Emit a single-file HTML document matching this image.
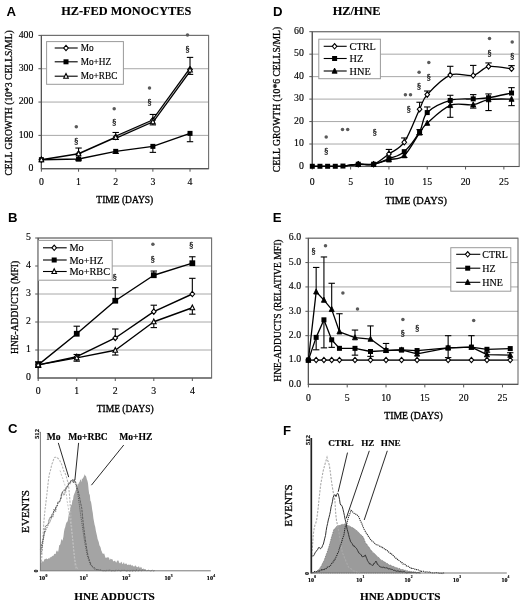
<!DOCTYPE html>
<html><head><meta charset="utf-8"><title>Figure</title>
<style>html,body{margin:0;padding:0;background:#fff;}svg{display:block;will-change:transform;}</style></head>
<body><svg width="520" height="603" viewBox="0 0 520 603">
<rect x="0" y="0" width="520" height="603" fill="#fff"/>
<text x="6.40" y="15.50" font-family='"Liberation Sans", sans-serif' font-size="13.2" font-weight="bold" text-anchor="start" fill="#000" >A</text>
<text x="126.25" y="15.00" font-family='"Liberation Serif", serif' font-size="12.3" font-weight="bold" text-anchor="middle" fill="#000" stroke="#000" stroke-width="0.15" >HZ-FED MONOCYTES</text>
<line x1="41.40" y1="135.38" x2="208.60" y2="135.38" stroke="#a8a8a8" stroke-width="1.0" />
<line x1="41.40" y1="102.05" x2="208.60" y2="102.05" stroke="#a8a8a8" stroke-width="1.0" />
<line x1="41.40" y1="68.72" x2="208.60" y2="68.72" stroke="#a8a8a8" stroke-width="1.0" />
<line x1="41.40" y1="35.40" x2="208.60" y2="35.40" stroke="#a8a8a8" stroke-width="1.0" />
<rect x="41.40" y="35.40" width="167.20" height="133.30" fill="none" stroke="#6e6e6e" stroke-width="1.1"/>
<line x1="41.40" y1="35.40" x2="41.40" y2="169.20" stroke="#555" stroke-width="1.2" />
<line x1="40.90" y1="168.70" x2="208.60" y2="168.70" stroke="#555" stroke-width="1.2" />
<line x1="38.40" y1="135.38" x2="41.40" y2="135.38" stroke="#555" stroke-width="1.0" />
<line x1="38.40" y1="102.05" x2="41.40" y2="102.05" stroke="#555" stroke-width="1.0" />
<line x1="38.40" y1="68.72" x2="41.40" y2="68.72" stroke="#555" stroke-width="1.0" />
<line x1="38.40" y1="35.40" x2="41.40" y2="35.40" stroke="#555" stroke-width="1.0" />
<line x1="41.40" y1="168.70" x2="41.40" y2="171.70" stroke="#555" stroke-width="1.0" />
<line x1="78.56" y1="168.70" x2="78.56" y2="171.70" stroke="#555" stroke-width="1.0" />
<line x1="115.71" y1="168.70" x2="115.71" y2="171.70" stroke="#555" stroke-width="1.0" />
<line x1="152.87" y1="168.70" x2="152.87" y2="171.70" stroke="#555" stroke-width="1.0" />
<line x1="190.02" y1="168.70" x2="190.02" y2="171.70" stroke="#555" stroke-width="1.0" />
<text x="33.40" y="170.90" font-family='"Liberation Serif", serif' font-size="9.8" font-weight="normal" text-anchor="end" fill="#000" stroke="#000" stroke-width="0.15" >0</text>
<text x="33.40" y="137.57" font-family='"Liberation Serif", serif' font-size="9.8" font-weight="normal" text-anchor="end" fill="#000" stroke="#000" stroke-width="0.15" >100</text>
<text x="33.40" y="104.25" font-family='"Liberation Serif", serif' font-size="9.8" font-weight="normal" text-anchor="end" fill="#000" stroke="#000" stroke-width="0.15" >200</text>
<text x="33.40" y="70.92" font-family='"Liberation Serif", serif' font-size="9.8" font-weight="normal" text-anchor="end" fill="#000" stroke="#000" stroke-width="0.15" >300</text>
<text x="33.40" y="37.60" font-family='"Liberation Serif", serif' font-size="9.8" font-weight="normal" text-anchor="end" fill="#000" stroke="#000" stroke-width="0.15" >400</text>
<text x="0" y="0" font-family='"Liberation Serif", serif' font-size="9.8" font-weight="normal" text-anchor="middle" fill="#000" stroke="#000" stroke-width="0.15"  transform="translate(41.40,184.50) scale(1,0.95)">0</text>
<text x="0" y="0" font-family='"Liberation Serif", serif' font-size="9.8" font-weight="normal" text-anchor="middle" fill="#000" stroke="#000" stroke-width="0.15"  transform="translate(78.56,184.50) scale(1,0.95)">1</text>
<text x="0" y="0" font-family='"Liberation Serif", serif' font-size="9.8" font-weight="normal" text-anchor="middle" fill="#000" stroke="#000" stroke-width="0.15"  transform="translate(115.71,184.50) scale(1,0.95)">2</text>
<text x="0" y="0" font-family='"Liberation Serif", serif' font-size="9.8" font-weight="normal" text-anchor="middle" fill="#000" stroke="#000" stroke-width="0.15"  transform="translate(152.87,184.50) scale(1,0.95)">3</text>
<text x="0" y="0" font-family='"Liberation Serif", serif' font-size="9.8" font-weight="normal" text-anchor="middle" fill="#000" stroke="#000" stroke-width="0.15"  transform="translate(190.02,184.50) scale(1,0.95)">4</text>
<text x="0" y="0" font-family='"Liberation Serif", serif' font-size="9.65" font-weight="normal" text-anchor="middle" fill="#000" stroke="#000" stroke-width="0.28"  transform="translate(11.50,102.90) rotate(-90) scale(1,1.0)">CELL GROWTH (10*3 CELLS/ML)</text>
<text x="124.80" y="202.50" font-family='"Liberation Serif", serif' font-size="9.5" font-weight="normal" text-anchor="middle" fill="#000" stroke="#000" stroke-width="0.32" >TIME (DAYS)</text>
<line x1="78.56" y1="153.70" x2="78.56" y2="148.04" stroke="#000" stroke-width="1.1" />
<line x1="75.36" y1="148.04" x2="81.76" y2="148.04" stroke="#000" stroke-width="1.1" />
<line x1="115.71" y1="137.04" x2="115.71" y2="132.48" stroke="#000" stroke-width="1.1" />
<line x1="112.51" y1="132.48" x2="118.91" y2="132.48" stroke="#000" stroke-width="1.1" />
<line x1="152.87" y1="120.05" x2="152.87" y2="114.45" stroke="#000" stroke-width="1.1" />
<line x1="149.67" y1="114.45" x2="156.07" y2="114.45" stroke="#000" stroke-width="1.1" />
<line x1="190.02" y1="69.39" x2="190.02" y2="57.39" stroke="#000" stroke-width="1.1" />
<line x1="186.82" y1="57.39" x2="193.22" y2="57.39" stroke="#000" stroke-width="1.1" />
<line x1="78.56" y1="153.70" x2="78.56" y2="159.70" stroke="#000" stroke-width="1.1" />
<line x1="75.36" y1="159.70" x2="81.76" y2="159.70" stroke="#000" stroke-width="1.1" />
<line x1="115.71" y1="137.37" x2="115.71" y2="139.37" stroke="#000" stroke-width="1.1" />
<line x1="112.51" y1="139.37" x2="118.91" y2="139.37" stroke="#000" stroke-width="1.1" />
<line x1="152.87" y1="121.71" x2="152.87" y2="124.88" stroke="#000" stroke-width="1.1" />
<line x1="149.67" y1="124.88" x2="156.07" y2="124.88" stroke="#000" stroke-width="1.1" />
<line x1="190.02" y1="70.06" x2="190.02" y2="74.39" stroke="#000" stroke-width="1.1" />
<line x1="186.82" y1="74.39" x2="193.22" y2="74.39" stroke="#000" stroke-width="1.1" />
<line x1="78.56" y1="159.04" x2="78.56" y2="160.70" stroke="#000" stroke-width="1.1" />
<line x1="75.36" y1="160.70" x2="81.76" y2="160.70" stroke="#000" stroke-width="1.1" />
<line x1="115.71" y1="151.37" x2="115.71" y2="153.37" stroke="#000" stroke-width="1.1" />
<line x1="112.51" y1="153.37" x2="118.91" y2="153.37" stroke="#000" stroke-width="1.1" />
<line x1="152.87" y1="146.37" x2="152.87" y2="152.37" stroke="#000" stroke-width="1.1" />
<line x1="149.67" y1="152.37" x2="156.07" y2="152.37" stroke="#000" stroke-width="1.1" />
<line x1="190.02" y1="133.38" x2="190.02" y2="141.71" stroke="#000" stroke-width="1.1" />
<line x1="186.82" y1="141.71" x2="193.22" y2="141.71" stroke="#000" stroke-width="1.1" />
<polyline points="41.40,159.70 78.56,159.04 115.71,151.37 152.87,146.37 190.02,133.38" fill="none" stroke="#000" stroke-width="1.4" stroke-linejoin="round"/>
<polyline points="41.40,159.70 78.56,153.70 115.71,137.21" fill="none" stroke="#000" stroke-width="1.5" stroke-linejoin="round"/>
<polyline points="115.71,137.21 152.87,120.88 190.02,69.72" fill="none" stroke="#000" stroke-width="3.1" stroke-linejoin="round"/>
<polyline points="115.71,137.21 152.87,120.88 190.02,69.72" fill="none" stroke="#fff" stroke-width="0.65" stroke-linejoin="round"/>
<rect x="38.90" y="157.20" width="5.00" height="5.00" fill="#000"/>
<rect x="76.06" y="156.54" width="5.00" height="5.00" fill="#000"/>
<rect x="113.21" y="148.87" width="5.00" height="5.00" fill="#000"/>
<rect x="150.37" y="143.87" width="5.00" height="5.00" fill="#000"/>
<rect x="187.52" y="130.88" width="5.00" height="5.00" fill="#000"/>
<path d="M41.40,157.00 L43.70,159.70 L41.40,162.40 L39.10,159.70 Z" fill="#fff" stroke="#000" stroke-width="1.1"/>
<path d="M78.56,151.00 L80.86,153.70 L78.56,156.40 L76.26,153.70 Z" fill="#fff" stroke="#000" stroke-width="1.1"/>
<path d="M115.71,134.34 L118.01,137.04 L115.71,139.74 L113.41,137.04 Z" fill="#fff" stroke="#000" stroke-width="1.1"/>
<path d="M152.87,117.35 L155.17,120.05 L152.87,122.75 L150.57,120.05 Z" fill="#fff" stroke="#000" stroke-width="1.1"/>
<path d="M190.02,66.69 L192.32,69.39 L190.02,72.09 L187.72,69.39 Z" fill="#fff" stroke="#000" stroke-width="1.1"/>
<path d="M41.40,157.00 L43.70,161.70 L39.10,161.70 Z" fill="#fff" stroke="#000" stroke-width="1.1" stroke-linejoin="miter"/>
<path d="M78.56,151.00 L80.86,155.70 L76.26,155.70 Z" fill="#fff" stroke="#000" stroke-width="1.1" stroke-linejoin="miter"/>
<path d="M115.71,134.67 L118.01,139.37 L113.41,139.37 Z" fill="#fff" stroke="#000" stroke-width="1.1" stroke-linejoin="miter"/>
<path d="M152.87,119.01 L155.17,123.71 L150.57,123.71 Z" fill="#fff" stroke="#000" stroke-width="1.1" stroke-linejoin="miter"/>
<path d="M190.02,67.36 L192.32,72.06 L187.72,72.06 Z" fill="#fff" stroke="#000" stroke-width="1.1" stroke-linejoin="miter"/>
<circle cx="76.30" cy="126.80" r="1.75" fill="#5a5a5a"/>
<text x="76.30" y="144.18" font-family='"Liberation Serif", serif' font-size="9.2" font-weight="normal" text-anchor="middle" fill="#1a1a1a" stroke="#1a1a1a" stroke-width="0.3" >§</text>
<circle cx="114.20" cy="108.80" r="1.75" fill="#5a5a5a"/>
<text x="114.20" y="125.48" font-family='"Liberation Serif", serif' font-size="9.2" font-weight="normal" text-anchor="middle" fill="#1a1a1a" stroke="#1a1a1a" stroke-width="0.3" >§</text>
<circle cx="149.50" cy="88.00" r="1.75" fill="#5a5a5a"/>
<text x="149.50" y="104.98" font-family='"Liberation Serif", serif' font-size="9.2" font-weight="normal" text-anchor="middle" fill="#1a1a1a" stroke="#1a1a1a" stroke-width="0.3" >§</text>
<circle cx="187.50" cy="35.00" r="1.75" fill="#5a5a5a"/>
<text x="187.50" y="52.08" font-family='"Liberation Serif", serif' font-size="9.2" font-weight="normal" text-anchor="middle" fill="#1a1a1a" stroke="#1a1a1a" stroke-width="0.3" >§</text>
<rect x="46.60" y="41.60" width="76.80" height="42.70" fill="#fff" stroke="#9a9a9a" stroke-width="1"/>
<line x1="54.70" y1="48.00" x2="77.70" y2="48.00" stroke="#000" stroke-width="1.1" />
<path d="M66.00,45.30 L68.30,48.00 L66.00,50.70 L63.70,48.00 Z" fill="#fff" stroke="#000" stroke-width="1.1"/>
<text x="80.70" y="51.16" font-family='"Liberation Serif", serif' font-size="9.3" font-weight="normal" text-anchor="start" fill="#000" stroke="#000" stroke-width="0.15" >Mo</text>
<line x1="54.70" y1="61.80" x2="77.70" y2="61.80" stroke="#000" stroke-width="1.1" />
<rect x="63.50" y="59.30" width="5.00" height="5.00" fill="#000"/>
<text x="80.70" y="64.96" font-family='"Liberation Serif", serif' font-size="9.3" font-weight="normal" text-anchor="start" fill="#000" stroke="#000" stroke-width="0.15" >Mo+HZ</text>
<line x1="54.70" y1="76.20" x2="77.70" y2="76.20" stroke="#000" stroke-width="1.1" />
<path d="M66.00,73.50 L68.30,78.20 L63.70,78.20 Z" fill="#fff" stroke="#000" stroke-width="1.1" stroke-linejoin="miter"/>
<text x="80.70" y="79.36" font-family='"Liberation Serif", serif' font-size="9.3" font-weight="normal" text-anchor="start" fill="#000" stroke="#000" stroke-width="0.15" >Mo+RBC</text>
<text x="8.00" y="222.40" font-family='"Liberation Sans", sans-serif' font-size="13.2" font-weight="bold" text-anchor="start" fill="#000" >B</text>
<line x1="38.20" y1="350.00" x2="211.60" y2="350.00" stroke="#a8a8a8" stroke-width="1.0" />
<line x1="38.20" y1="322.00" x2="211.60" y2="322.00" stroke="#a8a8a8" stroke-width="1.0" />
<line x1="38.20" y1="294.00" x2="211.60" y2="294.00" stroke="#a8a8a8" stroke-width="1.0" />
<line x1="38.20" y1="266.00" x2="211.60" y2="266.00" stroke="#a8a8a8" stroke-width="1.0" />
<line x1="38.20" y1="238.00" x2="211.60" y2="238.00" stroke="#a8a8a8" stroke-width="1.0" />
<rect x="38.20" y="238.00" width="173.40" height="140.00" fill="none" stroke="#6e6e6e" stroke-width="1.1"/>
<line x1="38.20" y1="238.00" x2="38.20" y2="378.50" stroke="#555" stroke-width="1.2" />
<line x1="37.70" y1="378.00" x2="211.60" y2="378.00" stroke="#555" stroke-width="1.2" />
<line x1="35.20" y1="350.00" x2="38.20" y2="350.00" stroke="#555" stroke-width="1.0" />
<line x1="35.20" y1="322.00" x2="38.20" y2="322.00" stroke="#555" stroke-width="1.0" />
<line x1="35.20" y1="294.00" x2="38.20" y2="294.00" stroke="#555" stroke-width="1.0" />
<line x1="35.20" y1="266.00" x2="38.20" y2="266.00" stroke="#555" stroke-width="1.0" />
<line x1="35.20" y1="238.00" x2="38.20" y2="238.00" stroke="#555" stroke-width="1.0" />
<line x1="38.20" y1="378.00" x2="38.20" y2="381.00" stroke="#555" stroke-width="1.0" />
<line x1="76.73" y1="378.00" x2="76.73" y2="381.00" stroke="#555" stroke-width="1.0" />
<line x1="115.27" y1="378.00" x2="115.27" y2="381.00" stroke="#555" stroke-width="1.0" />
<line x1="153.80" y1="378.00" x2="153.80" y2="381.00" stroke="#555" stroke-width="1.0" />
<line x1="192.33" y1="378.00" x2="192.33" y2="381.00" stroke="#555" stroke-width="1.0" />
<text x="31.00" y="380.20" font-family='"Liberation Serif", serif' font-size="9.8" font-weight="normal" text-anchor="end" fill="#000" stroke="#000" stroke-width="0.15" >0</text>
<text x="31.00" y="352.20" font-family='"Liberation Serif", serif' font-size="9.8" font-weight="normal" text-anchor="end" fill="#000" stroke="#000" stroke-width="0.15" >1</text>
<text x="31.00" y="324.20" font-family='"Liberation Serif", serif' font-size="9.8" font-weight="normal" text-anchor="end" fill="#000" stroke="#000" stroke-width="0.15" >2</text>
<text x="31.00" y="296.20" font-family='"Liberation Serif", serif' font-size="9.8" font-weight="normal" text-anchor="end" fill="#000" stroke="#000" stroke-width="0.15" >3</text>
<text x="31.00" y="268.20" font-family='"Liberation Serif", serif' font-size="9.8" font-weight="normal" text-anchor="end" fill="#000" stroke="#000" stroke-width="0.15" >4</text>
<text x="31.00" y="240.20" font-family='"Liberation Serif", serif' font-size="9.8" font-weight="normal" text-anchor="end" fill="#000" stroke="#000" stroke-width="0.15" >5</text>
<text x="0" y="0" font-family='"Liberation Serif", serif' font-size="9.8" font-weight="normal" text-anchor="middle" fill="#000" stroke="#000" stroke-width="0.15"  transform="translate(38.20,394.00) scale(1,0.95)">0</text>
<text x="0" y="0" font-family='"Liberation Serif", serif' font-size="9.8" font-weight="normal" text-anchor="middle" fill="#000" stroke="#000" stroke-width="0.15"  transform="translate(76.73,394.00) scale(1,0.95)">1</text>
<text x="0" y="0" font-family='"Liberation Serif", serif' font-size="9.8" font-weight="normal" text-anchor="middle" fill="#000" stroke="#000" stroke-width="0.15"  transform="translate(115.27,394.00) scale(1,0.95)">2</text>
<text x="0" y="0" font-family='"Liberation Serif", serif' font-size="9.8" font-weight="normal" text-anchor="middle" fill="#000" stroke="#000" stroke-width="0.15"  transform="translate(153.80,394.00) scale(1,0.95)">3</text>
<text x="0" y="0" font-family='"Liberation Serif", serif' font-size="9.8" font-weight="normal" text-anchor="middle" fill="#000" stroke="#000" stroke-width="0.15"  transform="translate(192.33,394.00) scale(1,0.95)">4</text>
<text x="0" y="0" font-family='"Liberation Serif", serif' font-size="9.5" font-weight="normal" text-anchor="middle" fill="#000" stroke="#000" stroke-width="0.28"  transform="translate(17.50,307.40) rotate(-90) scale(1,1.0)">HNE-ADDUCTS (MFI)</text>
<text x="125.20" y="411.70" font-family='"Liberation Serif", serif' font-size="9.5" font-weight="normal" text-anchor="middle" fill="#000" stroke="#000" stroke-width="0.32" >TIME (DAYS)</text>
<line x1="38.20" y1="364.84" x2="38.20" y2="361.76" stroke="#000" stroke-width="1.1" />
<line x1="35.00" y1="361.76" x2="41.40" y2="361.76" stroke="#000" stroke-width="1.1" />
<line x1="76.73" y1="333.76" x2="76.73" y2="326.20" stroke="#000" stroke-width="1.1" />
<line x1="73.53" y1="326.20" x2="79.93" y2="326.20" stroke="#000" stroke-width="1.1" />
<line x1="115.27" y1="300.72" x2="115.27" y2="287.70" stroke="#000" stroke-width="1.1" />
<line x1="112.07" y1="287.70" x2="118.47" y2="287.70" stroke="#000" stroke-width="1.1" />
<line x1="153.80" y1="275.24" x2="153.80" y2="271.04" stroke="#000" stroke-width="1.1" />
<line x1="150.60" y1="271.04" x2="157.00" y2="271.04" stroke="#000" stroke-width="1.1" />
<line x1="192.33" y1="263.20" x2="192.33" y2="256.76" stroke="#000" stroke-width="1.1" />
<line x1="189.13" y1="256.76" x2="195.53" y2="256.76" stroke="#000" stroke-width="1.1" />
<line x1="76.73" y1="356.72" x2="76.73" y2="354.48" stroke="#000" stroke-width="1.1" />
<line x1="73.53" y1="354.48" x2="79.93" y2="354.48" stroke="#000" stroke-width="1.1" />
<line x1="115.27" y1="337.96" x2="115.27" y2="329.00" stroke="#000" stroke-width="1.1" />
<line x1="112.07" y1="329.00" x2="118.47" y2="329.00" stroke="#000" stroke-width="1.1" />
<line x1="153.80" y1="311.64" x2="153.80" y2="305.20" stroke="#000" stroke-width="1.1" />
<line x1="150.60" y1="305.20" x2="157.00" y2="305.20" stroke="#000" stroke-width="1.1" />
<line x1="192.33" y1="294.00" x2="192.33" y2="278.32" stroke="#000" stroke-width="1.1" />
<line x1="189.13" y1="278.32" x2="195.53" y2="278.32" stroke="#000" stroke-width="1.1" />
<line x1="38.20" y1="364.84" x2="38.20" y2="367.36" stroke="#000" stroke-width="1.1" />
<line x1="35.00" y1="367.36" x2="41.40" y2="367.36" stroke="#000" stroke-width="1.1" />
<line x1="76.73" y1="357.84" x2="76.73" y2="361.20" stroke="#000" stroke-width="1.1" />
<line x1="73.53" y1="361.20" x2="79.93" y2="361.20" stroke="#000" stroke-width="1.1" />
<line x1="115.27" y1="350.28" x2="115.27" y2="355.04" stroke="#000" stroke-width="1.1" />
<line x1="112.07" y1="355.04" x2="118.47" y2="355.04" stroke="#000" stroke-width="1.1" />
<line x1="153.80" y1="321.72" x2="153.80" y2="327.60" stroke="#000" stroke-width="1.1" />
<line x1="150.60" y1="327.60" x2="157.00" y2="327.60" stroke="#000" stroke-width="1.1" />
<line x1="192.33" y1="307.72" x2="192.33" y2="314.16" stroke="#000" stroke-width="1.1" />
<line x1="189.13" y1="314.16" x2="195.53" y2="314.16" stroke="#000" stroke-width="1.1" />
<polyline points="38.20,364.84 76.73,333.76 115.27,300.72 153.80,275.24 192.33,263.20" fill="none" stroke="#000" stroke-width="1.4" stroke-linejoin="round"/>
<polyline points="38.20,364.84 76.73,356.72 115.27,337.96 153.80,311.64 192.33,294.00" fill="none" stroke="#000" stroke-width="1.4" stroke-linejoin="round"/>
<polyline points="38.20,364.84 76.73,357.84 115.27,350.28 153.80,321.72 192.33,307.72" fill="none" stroke="#000" stroke-width="1.4" stroke-linejoin="round"/>
<rect x="35.33" y="361.96" width="5.75" height="5.75" fill="#000"/>
<rect x="73.86" y="330.88" width="5.75" height="5.75" fill="#000"/>
<rect x="112.39" y="297.85" width="5.75" height="5.75" fill="#000"/>
<rect x="150.92" y="272.37" width="5.75" height="5.75" fill="#000"/>
<rect x="189.46" y="260.32" width="5.75" height="5.75" fill="#000"/>
<path d="M38.20,362.14 L40.50,364.84 L38.20,367.54 L35.90,364.84 Z" fill="#fff" stroke="#000" stroke-width="1.1"/>
<path d="M76.73,354.02 L79.03,356.72 L76.73,359.42 L74.43,356.72 Z" fill="#fff" stroke="#000" stroke-width="1.1"/>
<path d="M115.27,335.26 L117.57,337.96 L115.27,340.66 L112.97,337.96 Z" fill="#fff" stroke="#000" stroke-width="1.1"/>
<path d="M153.80,308.94 L156.10,311.64 L153.80,314.34 L151.50,311.64 Z" fill="#fff" stroke="#000" stroke-width="1.1"/>
<path d="M192.33,291.30 L194.63,294.00 L192.33,296.70 L190.03,294.00 Z" fill="#fff" stroke="#000" stroke-width="1.1"/>
<path d="M38.20,362.14 L40.50,366.84 L35.90,366.84 Z" fill="#fff" stroke="#000" stroke-width="1.1" stroke-linejoin="miter"/>
<path d="M76.73,355.14 L79.03,359.84 L74.43,359.84 Z" fill="#fff" stroke="#000" stroke-width="1.1" stroke-linejoin="miter"/>
<path d="M115.27,347.58 L117.57,352.28 L112.97,352.28 Z" fill="#fff" stroke="#000" stroke-width="1.1" stroke-linejoin="miter"/>
<path d="M153.80,319.02 L156.10,323.72 L151.50,323.72 Z" fill="#fff" stroke="#000" stroke-width="1.1" stroke-linejoin="miter"/>
<path d="M192.33,305.02 L194.63,309.72 L190.03,309.72 Z" fill="#fff" stroke="#000" stroke-width="1.1" stroke-linejoin="miter"/>
<text x="114.80" y="280.48" font-family='"Liberation Serif", serif' font-size="9.2" font-weight="normal" text-anchor="middle" fill="#1a1a1a" stroke="#1a1a1a" stroke-width="0.3" >§</text>
<circle cx="152.90" cy="244.30" r="1.75" fill="#5a5a5a"/>
<text x="152.90" y="262.08" font-family='"Liberation Serif", serif' font-size="9.2" font-weight="normal" text-anchor="middle" fill="#1a1a1a" stroke="#1a1a1a" stroke-width="0.3" >§</text>
<text x="191.20" y="248.28" font-family='"Liberation Serif", serif' font-size="9.2" font-weight="normal" text-anchor="middle" fill="#1a1a1a" stroke="#1a1a1a" stroke-width="0.3" >§</text>
<rect x="38.30" y="240.40" width="73.90" height="39.80" fill="#fff" stroke="#9a9a9a" stroke-width="1"/>
<line x1="43.00" y1="247.80" x2="66.70" y2="247.80" stroke="#000" stroke-width="1.1" />
<path d="M54.20,245.10 L56.50,247.80 L54.20,250.50 L51.90,247.80 Z" fill="#fff" stroke="#000" stroke-width="1.1"/>
<text x="69.40" y="251.30" font-family='"Liberation Serif", serif' font-size="10.3" font-weight="normal" text-anchor="start" fill="#000" stroke="#000" stroke-width="0.15" >Mo</text>
<line x1="43.00" y1="260.00" x2="66.70" y2="260.00" stroke="#000" stroke-width="1.1" />
<rect x="51.70" y="257.50" width="5.00" height="5.00" fill="#000"/>
<text x="69.40" y="263.50" font-family='"Liberation Serif", serif' font-size="10.3" font-weight="normal" text-anchor="start" fill="#000" stroke="#000" stroke-width="0.15" >Mo+HZ</text>
<line x1="43.00" y1="271.50" x2="66.70" y2="271.50" stroke="#000" stroke-width="1.1" />
<path d="M54.20,268.80 L56.50,273.50 L51.90,273.50 Z" fill="#fff" stroke="#000" stroke-width="1.1" stroke-linejoin="miter"/>
<text x="69.40" y="275.00" font-family='"Liberation Serif", serif' font-size="10.3" font-weight="normal" text-anchor="start" fill="#000" stroke="#000" stroke-width="0.15" >Mo+RBC</text>
<text x="273.00" y="15.60" font-family='"Liberation Sans", sans-serif' font-size="13.2" font-weight="bold" text-anchor="start" fill="#000" >D</text>
<text x="356.60" y="15.30" font-family='"Liberation Serif", serif' font-size="12.3" font-weight="bold" text-anchor="middle" fill="#000" stroke="#000" stroke-width="0.15" >HZ/HNE</text>
<line x1="312.30" y1="144.03" x2="519.20" y2="144.03" stroke="#a8a8a8" stroke-width="1.0" />
<line x1="312.30" y1="121.57" x2="519.20" y2="121.57" stroke="#a8a8a8" stroke-width="1.0" />
<line x1="312.30" y1="99.10" x2="519.20" y2="99.10" stroke="#a8a8a8" stroke-width="1.0" />
<line x1="312.30" y1="76.63" x2="519.20" y2="76.63" stroke="#a8a8a8" stroke-width="1.0" />
<line x1="312.30" y1="54.17" x2="519.20" y2="54.17" stroke="#a8a8a8" stroke-width="1.0" />
<line x1="312.30" y1="31.70" x2="519.20" y2="31.70" stroke="#a8a8a8" stroke-width="1.0" />
<rect x="312.30" y="31.70" width="206.90" height="134.80" fill="none" stroke="#6e6e6e" stroke-width="1.1"/>
<line x1="312.30" y1="31.70" x2="312.30" y2="167.00" stroke="#555" stroke-width="1.2" />
<line x1="311.80" y1="166.50" x2="519.20" y2="166.50" stroke="#555" stroke-width="1.2" />
<line x1="309.30" y1="144.03" x2="312.30" y2="144.03" stroke="#555" stroke-width="1.0" />
<line x1="309.30" y1="121.57" x2="312.30" y2="121.57" stroke="#555" stroke-width="1.0" />
<line x1="309.30" y1="99.10" x2="312.30" y2="99.10" stroke="#555" stroke-width="1.0" />
<line x1="309.30" y1="76.63" x2="312.30" y2="76.63" stroke="#555" stroke-width="1.0" />
<line x1="309.30" y1="54.17" x2="312.30" y2="54.17" stroke="#555" stroke-width="1.0" />
<line x1="309.30" y1="31.70" x2="312.30" y2="31.70" stroke="#555" stroke-width="1.0" />
<line x1="312.30" y1="166.50" x2="312.30" y2="169.50" stroke="#555" stroke-width="1.0" />
<line x1="350.61" y1="166.50" x2="350.61" y2="169.50" stroke="#555" stroke-width="1.0" />
<line x1="388.93" y1="166.50" x2="388.93" y2="169.50" stroke="#555" stroke-width="1.0" />
<line x1="427.24" y1="166.50" x2="427.24" y2="169.50" stroke="#555" stroke-width="1.0" />
<line x1="465.56" y1="166.50" x2="465.56" y2="169.50" stroke="#555" stroke-width="1.0" />
<line x1="503.87" y1="166.50" x2="503.87" y2="169.50" stroke="#555" stroke-width="1.0" />
<text x="303.90" y="168.70" font-family='"Liberation Serif", serif' font-size="9.8" font-weight="normal" text-anchor="end" fill="#000" stroke="#000" stroke-width="0.15" >0</text>
<text x="303.90" y="146.23" font-family='"Liberation Serif", serif' font-size="9.8" font-weight="normal" text-anchor="end" fill="#000" stroke="#000" stroke-width="0.15" >10</text>
<text x="303.90" y="123.77" font-family='"Liberation Serif", serif' font-size="9.8" font-weight="normal" text-anchor="end" fill="#000" stroke="#000" stroke-width="0.15" >20</text>
<text x="303.90" y="101.30" font-family='"Liberation Serif", serif' font-size="9.8" font-weight="normal" text-anchor="end" fill="#000" stroke="#000" stroke-width="0.15" >30</text>
<text x="303.90" y="78.83" font-family='"Liberation Serif", serif' font-size="9.8" font-weight="normal" text-anchor="end" fill="#000" stroke="#000" stroke-width="0.15" >40</text>
<text x="303.90" y="56.37" font-family='"Liberation Serif", serif' font-size="9.8" font-weight="normal" text-anchor="end" fill="#000" stroke="#000" stroke-width="0.15" >50</text>
<text x="303.90" y="33.90" font-family='"Liberation Serif", serif' font-size="9.8" font-weight="normal" text-anchor="end" fill="#000" stroke="#000" stroke-width="0.15" >60</text>
<text x="0" y="0" font-family='"Liberation Serif", serif' font-size="9.8" font-weight="normal" text-anchor="middle" fill="#000" stroke="#000" stroke-width="0.15"  transform="translate(312.30,184.70) scale(1,0.95)">0</text>
<text x="0" y="0" font-family='"Liberation Serif", serif' font-size="9.8" font-weight="normal" text-anchor="middle" fill="#000" stroke="#000" stroke-width="0.15"  transform="translate(350.61,184.70) scale(1,0.95)">5</text>
<text x="0" y="0" font-family='"Liberation Serif", serif' font-size="9.8" font-weight="normal" text-anchor="middle" fill="#000" stroke="#000" stroke-width="0.15"  transform="translate(388.93,184.70) scale(1,0.95)">10</text>
<text x="0" y="0" font-family='"Liberation Serif", serif' font-size="9.8" font-weight="normal" text-anchor="middle" fill="#000" stroke="#000" stroke-width="0.15"  transform="translate(427.24,184.70) scale(1,0.95)">15</text>
<text x="0" y="0" font-family='"Liberation Serif", serif' font-size="9.8" font-weight="normal" text-anchor="middle" fill="#000" stroke="#000" stroke-width="0.15"  transform="translate(465.56,184.70) scale(1,0.95)">20</text>
<text x="0" y="0" font-family='"Liberation Serif", serif' font-size="9.8" font-weight="normal" text-anchor="middle" fill="#000" stroke="#000" stroke-width="0.15"  transform="translate(503.87,184.70) scale(1,0.95)">25</text>
<text x="0" y="0" font-family='"Liberation Serif", serif' font-size="9.65" font-weight="normal" text-anchor="middle" fill="#000" stroke="#000" stroke-width="0.28"  transform="translate(279.50,99.50) rotate(-90) scale(1,1.0)">CELL GROWTH (10*6 CELLS/ML)</text>
<text x="416.00" y="203.70" font-family='"Liberation Serif", serif' font-size="10.3" font-weight="normal" text-anchor="middle" fill="#000" stroke="#000" stroke-width="0.32" >TIME (DAYS)</text>
<line x1="388.93" y1="153.92" x2="388.93" y2="149.43" stroke="#000" stroke-width="1.1" />
<line x1="385.73" y1="149.43" x2="392.13" y2="149.43" stroke="#000" stroke-width="1.1" />
<line x1="404.26" y1="142.24" x2="404.26" y2="137.97" stroke="#000" stroke-width="1.1" />
<line x1="401.06" y1="137.97" x2="407.46" y2="137.97" stroke="#000" stroke-width="1.1" />
<line x1="419.58" y1="109.21" x2="419.58" y2="102.25" stroke="#000" stroke-width="1.1" />
<line x1="416.38" y1="102.25" x2="422.78" y2="102.25" stroke="#000" stroke-width="1.1" />
<line x1="427.24" y1="94.61" x2="427.24" y2="91.01" stroke="#000" stroke-width="1.1" />
<line x1="424.04" y1="91.01" x2="430.44" y2="91.01" stroke="#000" stroke-width="1.1" />
<line x1="450.23" y1="75.06" x2="450.23" y2="66.30" stroke="#000" stroke-width="1.1" />
<line x1="447.03" y1="66.30" x2="453.43" y2="66.30" stroke="#000" stroke-width="1.1" />
<line x1="473.22" y1="75.51" x2="473.22" y2="65.40" stroke="#000" stroke-width="1.1" />
<line x1="470.02" y1="65.40" x2="476.42" y2="65.40" stroke="#000" stroke-width="1.1" />
<line x1="488.55" y1="66.52" x2="488.55" y2="62.93" stroke="#000" stroke-width="1.1" />
<line x1="485.35" y1="62.93" x2="491.75" y2="62.93" stroke="#000" stroke-width="1.1" />
<line x1="511.54" y1="68.77" x2="511.54" y2="65.62" stroke="#000" stroke-width="1.1" />
<line x1="508.34" y1="65.62" x2="514.74" y2="65.62" stroke="#000" stroke-width="1.1" />
<line x1="419.58" y1="131.68" x2="419.58" y2="129.65" stroke="#000" stroke-width="1.1" />
<line x1="416.38" y1="129.65" x2="422.78" y2="129.65" stroke="#000" stroke-width="1.1" />
<line x1="427.24" y1="112.58" x2="427.24" y2="106.96" stroke="#000" stroke-width="1.1" />
<line x1="424.04" y1="106.96" x2="430.44" y2="106.96" stroke="#000" stroke-width="1.1" />
<line x1="450.23" y1="100.45" x2="450.23" y2="95.28" stroke="#000" stroke-width="1.1" />
<line x1="447.03" y1="95.28" x2="453.43" y2="95.28" stroke="#000" stroke-width="1.1" />
<line x1="473.22" y1="98.88" x2="473.22" y2="94.61" stroke="#000" stroke-width="1.1" />
<line x1="470.02" y1="94.61" x2="476.42" y2="94.61" stroke="#000" stroke-width="1.1" />
<line x1="488.55" y1="97.75" x2="488.55" y2="93.93" stroke="#000" stroke-width="1.1" />
<line x1="485.35" y1="93.93" x2="491.75" y2="93.93" stroke="#000" stroke-width="1.1" />
<line x1="511.54" y1="93.03" x2="511.54" y2="87.64" stroke="#000" stroke-width="1.1" />
<line x1="508.34" y1="87.64" x2="514.74" y2="87.64" stroke="#000" stroke-width="1.1" />
<line x1="404.26" y1="155.49" x2="404.26" y2="157.51" stroke="#000" stroke-width="1.1" />
<line x1="401.06" y1="157.51" x2="407.46" y2="157.51" stroke="#000" stroke-width="1.1" />
<line x1="419.58" y1="132.80" x2="419.58" y2="134.60" stroke="#000" stroke-width="1.1" />
<line x1="416.38" y1="134.60" x2="422.78" y2="134.60" stroke="#000" stroke-width="1.1" />
<line x1="450.23" y1="105.39" x2="450.23" y2="117.30" stroke="#000" stroke-width="1.1" />
<line x1="447.03" y1="117.30" x2="453.43" y2="117.30" stroke="#000" stroke-width="1.1" />
<line x1="473.22" y1="104.72" x2="473.22" y2="108.09" stroke="#000" stroke-width="1.1" />
<line x1="470.02" y1="108.09" x2="476.42" y2="108.09" stroke="#000" stroke-width="1.1" />
<line x1="488.55" y1="99.55" x2="488.55" y2="110.56" stroke="#000" stroke-width="1.1" />
<line x1="485.35" y1="110.56" x2="491.75" y2="110.56" stroke="#000" stroke-width="1.1" />
<line x1="511.54" y1="99.10" x2="511.54" y2="105.62" stroke="#000" stroke-width="1.1" />
<line x1="508.34" y1="105.62" x2="514.74" y2="105.62" stroke="#000" stroke-width="1.1" />
<path d="M312.30,166.28 C313.58,166.28 317.41,166.28 319.96,166.28 C322.52,166.28 325.07,166.28 327.63,166.28 C330.18,166.28 332.73,166.31 335.29,166.28 C337.84,166.24 339.12,166.39 342.95,166.05 C346.78,165.71 353.17,164.55 358.28,164.25 C363.39,163.95 368.50,165.00 373.60,164.25 C378.71,163.50 383.82,161.22 388.93,159.76 C394.04,158.30 399.15,159.98 404.26,155.49 C409.36,151.00 415.75,138.19 419.58,132.80 C423.41,127.41 422.14,127.71 427.24,123.14 C432.35,118.57 442.57,108.46 450.23,105.39 C457.90,102.32 466.84,105.69 473.22,104.72 C479.61,103.74 482.16,100.49 488.55,99.55 C494.93,98.61 507.71,99.17 511.54,99.10" fill="none" stroke="#000" stroke-width="1.3"/>
<path d="M312.30,166.28 C313.58,166.28 317.41,166.28 319.96,166.28 C322.52,166.28 325.07,166.28 327.63,166.28 C330.18,166.28 332.73,166.31 335.29,166.28 C337.84,166.24 339.12,166.39 342.95,166.05 C346.78,165.71 353.17,164.55 358.28,164.25 C363.39,163.95 368.50,165.19 373.60,164.25 C378.71,163.32 383.82,160.73 388.93,158.64 C394.04,156.54 399.15,156.17 404.26,151.67 C409.36,147.18 415.75,138.19 419.58,131.68 C423.41,125.16 422.14,117.78 427.24,112.58 C432.35,107.38 442.57,102.73 450.23,100.45 C457.90,98.16 466.84,99.32 473.22,98.88 C479.61,98.43 482.16,98.73 488.55,97.75 C494.93,96.78 507.71,93.82 511.54,93.03" fill="none" stroke="#000" stroke-width="1.3"/>
<path d="M312.30,166.28 C313.58,166.28 317.41,166.28 319.96,166.28 C322.52,166.28 325.07,166.28 327.63,166.28 C330.18,166.28 332.73,166.31 335.29,166.28 C337.84,166.24 339.12,166.39 342.95,166.05 C346.78,165.71 353.17,164.55 358.28,164.25 C363.39,163.95 368.50,165.98 373.60,164.25 C378.71,162.53 383.82,157.59 388.93,153.92 C394.04,150.25 399.15,149.69 404.26,142.24 C409.36,134.78 415.75,117.15 419.58,109.21 C423.41,101.27 422.14,100.30 427.24,94.61 C432.35,88.92 442.57,78.24 450.23,75.06 C457.90,71.88 466.84,76.93 473.22,75.51 C479.61,74.09 482.16,67.65 488.55,66.52 C494.93,65.40 507.71,68.40 511.54,68.77" fill="none" stroke="#000" stroke-width="1.3"/>
<path d="M358.28,161.55 L360.58,164.25 L358.28,166.95 L355.98,164.25 Z" fill="#fff" stroke="#000" stroke-width="1.1"/>
<path d="M373.60,161.55 L375.90,164.25 L373.60,166.95 L371.30,164.25 Z" fill="#fff" stroke="#000" stroke-width="1.1"/>
<path d="M388.93,151.22 L391.23,153.92 L388.93,156.62 L386.63,153.92 Z" fill="#fff" stroke="#000" stroke-width="1.1"/>
<path d="M404.26,139.54 L406.56,142.24 L404.26,144.94 L401.96,142.24 Z" fill="#fff" stroke="#000" stroke-width="1.1"/>
<path d="M419.58,106.51 L421.88,109.21 L419.58,111.91 L417.28,109.21 Z" fill="#fff" stroke="#000" stroke-width="1.1"/>
<path d="M427.24,91.91 L429.54,94.61 L427.24,97.31 L424.94,94.61 Z" fill="#fff" stroke="#000" stroke-width="1.1"/>
<path d="M450.23,72.36 L452.53,75.06 L450.23,77.76 L447.93,75.06 Z" fill="#fff" stroke="#000" stroke-width="1.1"/>
<path d="M473.22,72.81 L475.52,75.51 L473.22,78.21 L470.92,75.51 Z" fill="#fff" stroke="#000" stroke-width="1.1"/>
<path d="M488.55,63.82 L490.85,66.52 L488.55,69.22 L486.25,66.52 Z" fill="#fff" stroke="#000" stroke-width="1.1"/>
<path d="M511.54,66.07 L513.84,68.77 L511.54,71.47 L509.24,68.77 Z" fill="#fff" stroke="#000" stroke-width="1.1"/>
<path d="M358.28,161.35 L360.78,166.45 L355.78,166.45 Z" fill="#000" stroke="#000" stroke-width="0.9" stroke-linejoin="round"/>
<path d="M373.60,161.35 L376.10,166.45 L371.10,166.45 Z" fill="#000" stroke="#000" stroke-width="0.9" stroke-linejoin="round"/>
<path d="M388.93,156.86 L391.43,161.96 L386.43,161.96 Z" fill="#000" stroke="#000" stroke-width="0.9" stroke-linejoin="round"/>
<path d="M404.26,152.59 L406.76,157.69 L401.76,157.69 Z" fill="#000" stroke="#000" stroke-width="0.9" stroke-linejoin="round"/>
<path d="M419.58,129.90 L422.08,135.00 L417.08,135.00 Z" fill="#000" stroke="#000" stroke-width="0.9" stroke-linejoin="round"/>
<path d="M427.24,120.24 L429.74,125.34 L424.74,125.34 Z" fill="#000" stroke="#000" stroke-width="0.9" stroke-linejoin="round"/>
<path d="M450.23,102.49 L452.73,107.59 L447.73,107.59 Z" fill="#000" stroke="#000" stroke-width="0.9" stroke-linejoin="round"/>
<path d="M473.22,101.82 L475.72,106.92 L470.72,106.92 Z" fill="#000" stroke="#000" stroke-width="0.9" stroke-linejoin="round"/>
<path d="M488.55,96.65 L491.05,101.75 L486.05,101.75 Z" fill="#000" stroke="#000" stroke-width="0.9" stroke-linejoin="round"/>
<path d="M511.54,96.20 L514.04,101.30 L509.04,101.30 Z" fill="#000" stroke="#000" stroke-width="0.9" stroke-linejoin="round"/>
<rect x="309.80" y="163.78" width="5.00" height="5.00" fill="#000"/>
<rect x="317.46" y="163.78" width="5.00" height="5.00" fill="#000"/>
<rect x="325.13" y="163.78" width="5.00" height="5.00" fill="#000"/>
<rect x="332.79" y="163.78" width="5.00" height="5.00" fill="#000"/>
<rect x="340.45" y="163.55" width="5.00" height="5.00" fill="#000"/>
<rect x="355.78" y="161.75" width="5.00" height="5.00" fill="#000"/>
<rect x="371.10" y="161.75" width="5.00" height="5.00" fill="#000"/>
<rect x="386.43" y="156.14" width="5.00" height="5.00" fill="#000"/>
<rect x="401.76" y="149.17" width="5.00" height="5.00" fill="#000"/>
<rect x="417.08" y="129.18" width="5.00" height="5.00" fill="#000"/>
<rect x="424.74" y="110.08" width="5.00" height="5.00" fill="#000"/>
<rect x="447.73" y="97.95" width="5.00" height="5.00" fill="#000"/>
<rect x="470.72" y="96.38" width="5.00" height="5.00" fill="#000"/>
<rect x="486.05" y="95.25" width="5.00" height="5.00" fill="#000"/>
<rect x="509.04" y="90.53" width="5.00" height="5.00" fill="#000"/>
<circle cx="326.20" cy="137.00" r="1.75" fill="#5a5a5a"/>
<text x="326.20" y="154.28" font-family='"Liberation Serif", serif' font-size="9.2" font-weight="normal" text-anchor="middle" fill="#1a1a1a" stroke="#1a1a1a" stroke-width="0.3" >§</text>
<circle cx="342.50" cy="129.50" r="1.75" fill="#5a5a5a"/>
<circle cx="347.70" cy="129.50" r="1.75" fill="#5a5a5a"/>
<text x="374.80" y="135.28" font-family='"Liberation Serif", serif' font-size="9.2" font-weight="normal" text-anchor="middle" fill="#1a1a1a" stroke="#1a1a1a" stroke-width="0.3" >§</text>
<circle cx="405.40" cy="94.70" r="1.75" fill="#5a5a5a"/>
<circle cx="410.50" cy="94.70" r="1.75" fill="#5a5a5a"/>
<text x="408.80" y="111.68" font-family='"Liberation Serif", serif' font-size="9.2" font-weight="normal" text-anchor="middle" fill="#1a1a1a" stroke="#1a1a1a" stroke-width="0.3" >§</text>
<circle cx="419.10" cy="72.30" r="1.75" fill="#5a5a5a"/>
<text x="419.10" y="88.88" font-family='"Liberation Serif", serif' font-size="9.2" font-weight="normal" text-anchor="middle" fill="#1a1a1a" stroke="#1a1a1a" stroke-width="0.3" >§</text>
<circle cx="428.80" cy="62.60" r="1.75" fill="#5a5a5a"/>
<text x="428.80" y="80.18" font-family='"Liberation Serif", serif' font-size="9.2" font-weight="normal" text-anchor="middle" fill="#1a1a1a" stroke="#1a1a1a" stroke-width="0.3" >§</text>
<circle cx="489.50" cy="38.60" r="1.75" fill="#5a5a5a"/>
<text x="489.50" y="56.48" font-family='"Liberation Serif", serif' font-size="9.2" font-weight="normal" text-anchor="middle" fill="#1a1a1a" stroke="#1a1a1a" stroke-width="0.3" >§</text>
<circle cx="512.20" cy="42.00" r="1.75" fill="#5a5a5a"/>
<text x="512.20" y="59.08" font-family='"Liberation Serif", serif' font-size="9.2" font-weight="normal" text-anchor="middle" fill="#1a1a1a" stroke="#1a1a1a" stroke-width="0.3" >§</text>
<rect x="318.80" y="39.20" width="61.60" height="39.50" fill="#fff" stroke="#9a9a9a" stroke-width="1"/>
<line x1="323.70" y1="46.30" x2="346.70" y2="46.30" stroke="#000" stroke-width="1.1" />
<path d="M334.60,43.60 L336.90,46.30 L334.60,49.00 L332.30,46.30 Z" fill="#fff" stroke="#000" stroke-width="1.1"/>
<text x="349.60" y="49.80" font-family='"Liberation Serif", serif' font-size="10.3" font-weight="normal" text-anchor="start" fill="#000" stroke="#000" stroke-width="0.15" >CTRL</text>
<line x1="323.70" y1="58.50" x2="346.70" y2="58.50" stroke="#000" stroke-width="1.1" />
<rect x="332.10" y="56.00" width="5.00" height="5.00" fill="#000"/>
<text x="349.60" y="62.00" font-family='"Liberation Serif", serif' font-size="10.3" font-weight="normal" text-anchor="start" fill="#000" stroke="#000" stroke-width="0.15" >HZ</text>
<line x1="323.70" y1="71.00" x2="346.70" y2="71.00" stroke="#000" stroke-width="1.1" />
<path d="M334.60,68.10 L337.10,73.20 L332.10,73.20 Z" fill="#000" stroke="#000" stroke-width="0.9" stroke-linejoin="round"/>
<text x="349.60" y="74.50" font-family='"Liberation Serif", serif' font-size="10.3" font-weight="normal" text-anchor="start" fill="#000" stroke="#000" stroke-width="0.15" >HNE</text>
<text x="272.80" y="222.40" font-family='"Liberation Sans", sans-serif' font-size="13.2" font-weight="bold" text-anchor="start" fill="#000" >E</text>
<line x1="308.40" y1="360.03" x2="518.00" y2="360.03" stroke="#a8a8a8" stroke-width="1.0" />
<line x1="308.40" y1="335.67" x2="518.00" y2="335.67" stroke="#a8a8a8" stroke-width="1.0" />
<line x1="308.40" y1="311.30" x2="518.00" y2="311.30" stroke="#a8a8a8" stroke-width="1.0" />
<line x1="308.40" y1="286.93" x2="518.00" y2="286.93" stroke="#a8a8a8" stroke-width="1.0" />
<line x1="308.40" y1="262.57" x2="518.00" y2="262.57" stroke="#a8a8a8" stroke-width="1.0" />
<line x1="308.40" y1="238.20" x2="518.00" y2="238.20" stroke="#a8a8a8" stroke-width="1.0" />
<rect x="308.40" y="238.20" width="209.60" height="146.20" fill="none" stroke="#6e6e6e" stroke-width="1.1"/>
<line x1="308.40" y1="238.20" x2="308.40" y2="384.90" stroke="#555" stroke-width="1.2" />
<line x1="307.90" y1="384.40" x2="518.00" y2="384.40" stroke="#555" stroke-width="1.2" />
<line x1="305.40" y1="360.03" x2="308.40" y2="360.03" stroke="#555" stroke-width="1.0" />
<line x1="305.40" y1="335.67" x2="308.40" y2="335.67" stroke="#555" stroke-width="1.0" />
<line x1="305.40" y1="311.30" x2="308.40" y2="311.30" stroke="#555" stroke-width="1.0" />
<line x1="305.40" y1="286.93" x2="308.40" y2="286.93" stroke="#555" stroke-width="1.0" />
<line x1="305.40" y1="262.57" x2="308.40" y2="262.57" stroke="#555" stroke-width="1.0" />
<line x1="305.40" y1="238.20" x2="308.40" y2="238.20" stroke="#555" stroke-width="1.0" />
<line x1="308.40" y1="384.40" x2="308.40" y2="387.40" stroke="#555" stroke-width="1.0" />
<line x1="347.21" y1="384.40" x2="347.21" y2="387.40" stroke="#555" stroke-width="1.0" />
<line x1="386.03" y1="384.40" x2="386.03" y2="387.40" stroke="#555" stroke-width="1.0" />
<line x1="424.84" y1="384.40" x2="424.84" y2="387.40" stroke="#555" stroke-width="1.0" />
<line x1="463.66" y1="384.40" x2="463.66" y2="387.40" stroke="#555" stroke-width="1.0" />
<line x1="502.47" y1="384.40" x2="502.47" y2="387.40" stroke="#555" stroke-width="1.0" />
<text x="301.10" y="386.60" font-family='"Liberation Serif", serif' font-size="9.8" font-weight="normal" text-anchor="end" fill="#000" stroke="#000" stroke-width="0.15" >0.0</text>
<text x="301.10" y="362.23" font-family='"Liberation Serif", serif' font-size="9.8" font-weight="normal" text-anchor="end" fill="#000" stroke="#000" stroke-width="0.15" >1.0</text>
<text x="301.10" y="337.87" font-family='"Liberation Serif", serif' font-size="9.8" font-weight="normal" text-anchor="end" fill="#000" stroke="#000" stroke-width="0.15" >2.0</text>
<text x="301.10" y="313.50" font-family='"Liberation Serif", serif' font-size="9.8" font-weight="normal" text-anchor="end" fill="#000" stroke="#000" stroke-width="0.15" >3.0</text>
<text x="301.10" y="289.13" font-family='"Liberation Serif", serif' font-size="9.8" font-weight="normal" text-anchor="end" fill="#000" stroke="#000" stroke-width="0.15" >4.0</text>
<text x="301.10" y="264.77" font-family='"Liberation Serif", serif' font-size="9.8" font-weight="normal" text-anchor="end" fill="#000" stroke="#000" stroke-width="0.15" >5.0</text>
<text x="301.10" y="240.40" font-family='"Liberation Serif", serif' font-size="9.8" font-weight="normal" text-anchor="end" fill="#000" stroke="#000" stroke-width="0.15" >6.0</text>
<text x="0" y="0" font-family='"Liberation Serif", serif' font-size="9.8" font-weight="normal" text-anchor="middle" fill="#000" stroke="#000" stroke-width="0.15"  transform="translate(308.40,400.70) scale(1,0.95)">0</text>
<text x="0" y="0" font-family='"Liberation Serif", serif' font-size="9.8" font-weight="normal" text-anchor="middle" fill="#000" stroke="#000" stroke-width="0.15"  transform="translate(347.21,400.70) scale(1,0.95)">5</text>
<text x="0" y="0" font-family='"Liberation Serif", serif' font-size="9.8" font-weight="normal" text-anchor="middle" fill="#000" stroke="#000" stroke-width="0.15"  transform="translate(386.03,400.70) scale(1,0.95)">10</text>
<text x="0" y="0" font-family='"Liberation Serif", serif' font-size="9.8" font-weight="normal" text-anchor="middle" fill="#000" stroke="#000" stroke-width="0.15"  transform="translate(424.84,400.70) scale(1,0.95)">15</text>
<text x="0" y="0" font-family='"Liberation Serif", serif' font-size="9.8" font-weight="normal" text-anchor="middle" fill="#000" stroke="#000" stroke-width="0.15"  transform="translate(463.66,400.70) scale(1,0.95)">20</text>
<text x="0" y="0" font-family='"Liberation Serif", serif' font-size="9.8" font-weight="normal" text-anchor="middle" fill="#000" stroke="#000" stroke-width="0.15"  transform="translate(502.47,400.70) scale(1,0.95)">25</text>
<text x="0" y="0" font-family='"Liberation Serif", serif' font-size="9.6" font-weight="normal" text-anchor="middle" fill="#000" stroke="#000" stroke-width="0.28"  transform="translate(281.20,310.60) rotate(-90) scale(1,1.0)">HNE-ADDUCTS (RELATIVE MFI)</text>
<text x="413.45" y="418.90" font-family='"Liberation Serif", serif' font-size="9.75" font-weight="normal" text-anchor="middle" fill="#000" stroke="#000" stroke-width="0.32" >TIME (DAYS)</text>
<line x1="316.16" y1="291.81" x2="316.16" y2="267.44" stroke="#000" stroke-width="1.1" />
<line x1="312.96" y1="267.44" x2="319.36" y2="267.44" stroke="#000" stroke-width="1.1" />
<line x1="323.93" y1="300.09" x2="323.93" y2="256.96" stroke="#000" stroke-width="1.1" />
<line x1="320.73" y1="256.96" x2="327.13" y2="256.96" stroke="#000" stroke-width="1.1" />
<line x1="331.69" y1="309.35" x2="331.69" y2="283.28" stroke="#000" stroke-width="1.1" />
<line x1="328.49" y1="283.28" x2="334.89" y2="283.28" stroke="#000" stroke-width="1.1" />
<line x1="339.45" y1="331.77" x2="339.45" y2="313.74" stroke="#000" stroke-width="1.1" />
<line x1="336.25" y1="313.74" x2="342.65" y2="313.74" stroke="#000" stroke-width="1.1" />
<line x1="354.98" y1="337.62" x2="354.98" y2="330.06" stroke="#000" stroke-width="1.1" />
<line x1="351.78" y1="330.06" x2="358.18" y2="330.06" stroke="#000" stroke-width="1.1" />
<line x1="370.50" y1="339.08" x2="370.50" y2="325.92" stroke="#000" stroke-width="1.1" />
<line x1="367.30" y1="325.92" x2="373.70" y2="325.92" stroke="#000" stroke-width="1.1" />
<line x1="386.03" y1="350.29" x2="386.03" y2="343.46" stroke="#000" stroke-width="1.1" />
<line x1="382.83" y1="343.46" x2="389.23" y2="343.46" stroke="#000" stroke-width="1.1" />
<line x1="448.13" y1="347.85" x2="448.13" y2="335.67" stroke="#000" stroke-width="1.1" />
<line x1="444.93" y1="335.67" x2="451.33" y2="335.67" stroke="#000" stroke-width="1.1" />
<line x1="471.42" y1="347.12" x2="471.42" y2="335.67" stroke="#000" stroke-width="1.1" />
<line x1="468.22" y1="335.67" x2="474.62" y2="335.67" stroke="#000" stroke-width="1.1" />
<line x1="486.95" y1="354.67" x2="486.95" y2="352.24" stroke="#000" stroke-width="1.1" />
<line x1="483.75" y1="352.24" x2="490.15" y2="352.24" stroke="#000" stroke-width="1.1" />
<line x1="510.24" y1="355.16" x2="510.24" y2="352.72" stroke="#000" stroke-width="1.1" />
<line x1="507.04" y1="352.72" x2="513.44" y2="352.72" stroke="#000" stroke-width="1.1" />
<line x1="316.16" y1="337.37" x2="316.16" y2="349.80" stroke="#000" stroke-width="1.1" />
<line x1="312.96" y1="349.80" x2="319.36" y2="349.80" stroke="#000" stroke-width="1.1" />
<line x1="323.93" y1="319.83" x2="323.93" y2="347.85" stroke="#000" stroke-width="1.1" />
<line x1="320.73" y1="347.85" x2="327.13" y2="347.85" stroke="#000" stroke-width="1.1" />
<line x1="331.69" y1="339.81" x2="331.69" y2="347.36" stroke="#000" stroke-width="1.1" />
<line x1="328.49" y1="347.36" x2="334.89" y2="347.36" stroke="#000" stroke-width="1.1" />
<line x1="354.98" y1="348.34" x2="354.98" y2="355.16" stroke="#000" stroke-width="1.1" />
<line x1="351.78" y1="355.16" x2="358.18" y2="355.16" stroke="#000" stroke-width="1.1" />
<line x1="370.50" y1="351.50" x2="370.50" y2="356.38" stroke="#000" stroke-width="1.1" />
<line x1="367.30" y1="356.38" x2="373.70" y2="356.38" stroke="#000" stroke-width="1.1" />
<line x1="448.13" y1="347.85" x2="448.13" y2="357.60" stroke="#000" stroke-width="1.1" />
<line x1="444.93" y1="357.60" x2="451.33" y2="357.60" stroke="#000" stroke-width="1.1" />
<polyline points="308.40,360.03 316.16,291.81 323.93,300.09 331.69,309.35 339.45,331.77 354.98,337.62 370.50,339.08 386.03,350.29 401.56,349.80 417.08,353.94 448.13,347.85 471.42,347.12 486.95,354.67 510.24,355.16" fill="none" stroke="#000" stroke-width="1.3" stroke-linejoin="round"/>
<polyline points="308.40,360.03 316.16,337.37 323.93,319.83 331.69,339.81 339.45,348.34 354.98,348.34 370.50,351.50 386.03,350.53 401.56,349.80 417.08,350.53 448.13,347.85 471.42,347.12 486.95,349.31 510.24,348.58" fill="none" stroke="#000" stroke-width="1.3" stroke-linejoin="round"/>
<polyline points="308.40,360.03 316.16,360.03 323.93,360.03 331.69,360.03 339.45,360.03 354.98,360.03 370.50,360.03 386.03,360.03 401.56,360.03 417.08,360.03 448.13,360.03 471.42,360.03 486.95,360.03 510.24,360.03" fill="none" stroke="#000" stroke-width="1.3" stroke-linejoin="round"/>
<path d="M308.40,357.33 L310.70,360.03 L308.40,362.73 L306.10,360.03 Z" fill="#fff" stroke="#000" stroke-width="1.1"/>
<path d="M316.16,357.33 L318.46,360.03 L316.16,362.73 L313.86,360.03 Z" fill="#fff" stroke="#000" stroke-width="1.1"/>
<path d="M323.93,357.33 L326.23,360.03 L323.93,362.73 L321.63,360.03 Z" fill="#fff" stroke="#000" stroke-width="1.1"/>
<path d="M331.69,357.33 L333.99,360.03 L331.69,362.73 L329.39,360.03 Z" fill="#fff" stroke="#000" stroke-width="1.1"/>
<path d="M339.45,357.33 L341.75,360.03 L339.45,362.73 L337.15,360.03 Z" fill="#fff" stroke="#000" stroke-width="1.1"/>
<path d="M354.98,357.33 L357.28,360.03 L354.98,362.73 L352.68,360.03 Z" fill="#fff" stroke="#000" stroke-width="1.1"/>
<path d="M370.50,357.33 L372.80,360.03 L370.50,362.73 L368.20,360.03 Z" fill="#fff" stroke="#000" stroke-width="1.1"/>
<path d="M386.03,357.33 L388.33,360.03 L386.03,362.73 L383.73,360.03 Z" fill="#fff" stroke="#000" stroke-width="1.1"/>
<path d="M401.56,357.33 L403.86,360.03 L401.56,362.73 L399.26,360.03 Z" fill="#fff" stroke="#000" stroke-width="1.1"/>
<path d="M417.08,357.33 L419.38,360.03 L417.08,362.73 L414.78,360.03 Z" fill="#fff" stroke="#000" stroke-width="1.1"/>
<path d="M448.13,357.33 L450.43,360.03 L448.13,362.73 L445.83,360.03 Z" fill="#fff" stroke="#000" stroke-width="1.1"/>
<path d="M471.42,357.33 L473.72,360.03 L471.42,362.73 L469.12,360.03 Z" fill="#fff" stroke="#000" stroke-width="1.1"/>
<path d="M486.95,357.33 L489.25,360.03 L486.95,362.73 L484.65,360.03 Z" fill="#fff" stroke="#000" stroke-width="1.1"/>
<path d="M510.24,357.33 L512.54,360.03 L510.24,362.73 L507.94,360.03 Z" fill="#fff" stroke="#000" stroke-width="1.1"/>
<path d="M308.40,357.13 L310.90,362.23 L305.90,362.23 Z" fill="#000" stroke="#000" stroke-width="0.9" stroke-linejoin="round"/>
<path d="M316.16,288.91 L318.66,294.01 L313.66,294.01 Z" fill="#000" stroke="#000" stroke-width="0.9" stroke-linejoin="round"/>
<path d="M323.93,297.19 L326.43,302.29 L321.43,302.29 Z" fill="#000" stroke="#000" stroke-width="0.9" stroke-linejoin="round"/>
<path d="M331.69,306.45 L334.19,311.55 L329.19,311.55 Z" fill="#000" stroke="#000" stroke-width="0.9" stroke-linejoin="round"/>
<path d="M339.45,328.87 L341.95,333.97 L336.95,333.97 Z" fill="#000" stroke="#000" stroke-width="0.9" stroke-linejoin="round"/>
<path d="M354.98,334.72 L357.48,339.82 L352.48,339.82 Z" fill="#000" stroke="#000" stroke-width="0.9" stroke-linejoin="round"/>
<path d="M370.50,336.18 L373.00,341.28 L368.00,341.28 Z" fill="#000" stroke="#000" stroke-width="0.9" stroke-linejoin="round"/>
<path d="M386.03,347.39 L388.53,352.49 L383.53,352.49 Z" fill="#000" stroke="#000" stroke-width="0.9" stroke-linejoin="round"/>
<path d="M401.56,346.90 L404.06,352.00 L399.06,352.00 Z" fill="#000" stroke="#000" stroke-width="0.9" stroke-linejoin="round"/>
<path d="M417.08,351.04 L419.58,356.14 L414.58,356.14 Z" fill="#000" stroke="#000" stroke-width="0.9" stroke-linejoin="round"/>
<path d="M448.13,344.95 L450.63,350.05 L445.63,350.05 Z" fill="#000" stroke="#000" stroke-width="0.9" stroke-linejoin="round"/>
<path d="M471.42,344.22 L473.92,349.32 L468.92,349.32 Z" fill="#000" stroke="#000" stroke-width="0.9" stroke-linejoin="round"/>
<path d="M486.95,351.77 L489.45,356.87 L484.45,356.87 Z" fill="#000" stroke="#000" stroke-width="0.9" stroke-linejoin="round"/>
<path d="M510.24,352.26 L512.74,357.36 L507.74,357.36 Z" fill="#000" stroke="#000" stroke-width="0.9" stroke-linejoin="round"/>
<rect x="305.90" y="357.53" width="5.00" height="5.00" fill="#000"/>
<rect x="313.66" y="334.87" width="5.00" height="5.00" fill="#000"/>
<rect x="321.43" y="317.33" width="5.00" height="5.00" fill="#000"/>
<rect x="329.19" y="337.31" width="5.00" height="5.00" fill="#000"/>
<rect x="336.95" y="345.84" width="5.00" height="5.00" fill="#000"/>
<rect x="352.48" y="345.84" width="5.00" height="5.00" fill="#000"/>
<rect x="368.00" y="349.00" width="5.00" height="5.00" fill="#000"/>
<rect x="383.53" y="348.03" width="5.00" height="5.00" fill="#000"/>
<rect x="399.06" y="347.30" width="5.00" height="5.00" fill="#000"/>
<rect x="414.58" y="348.03" width="5.00" height="5.00" fill="#000"/>
<rect x="445.63" y="345.35" width="5.00" height="5.00" fill="#000"/>
<rect x="468.92" y="344.62" width="5.00" height="5.00" fill="#000"/>
<rect x="484.45" y="346.81" width="5.00" height="5.00" fill="#000"/>
<rect x="507.74" y="346.08" width="5.00" height="5.00" fill="#000"/>
<text x="313.50" y="254.48" font-family='"Liberation Serif", serif' font-size="9.2" font-weight="normal" text-anchor="middle" fill="#1a1a1a" stroke="#1a1a1a" stroke-width="0.3" >§</text>
<circle cx="325.50" cy="245.80" r="1.75" fill="#5a5a5a"/>
<circle cx="342.90" cy="293.10" r="1.75" fill="#5a5a5a"/>
<circle cx="357.50" cy="308.90" r="1.75" fill="#5a5a5a"/>
<circle cx="402.90" cy="319.60" r="1.75" fill="#5a5a5a"/>
<text x="402.90" y="336.08" font-family='"Liberation Serif", serif' font-size="9.2" font-weight="normal" text-anchor="middle" fill="#1a1a1a" stroke="#1a1a1a" stroke-width="0.3" >§</text>
<text x="417.20" y="330.68" font-family='"Liberation Serif", serif' font-size="9.2" font-weight="normal" text-anchor="middle" fill="#1a1a1a" stroke="#1a1a1a" stroke-width="0.3" >§</text>
<circle cx="473.70" cy="320.40" r="1.75" fill="#5a5a5a"/>
<rect x="450.80" y="247.70" width="60.00" height="43.50" fill="#fff" stroke="#9a9a9a" stroke-width="1"/>
<line x1="456.20" y1="254.30" x2="480.30" y2="254.30" stroke="#000" stroke-width="1.1" />
<path d="M467.70,251.60 L470.00,254.30 L467.70,257.00 L465.40,254.30 Z" fill="#fff" stroke="#000" stroke-width="1.1"/>
<text x="482.30" y="257.70" font-family='"Liberation Serif", serif' font-size="10.0" font-weight="normal" text-anchor="start" fill="#000" stroke="#000" stroke-width="0.15" >CTRL</text>
<line x1="456.20" y1="268.20" x2="480.30" y2="268.20" stroke="#000" stroke-width="1.1" />
<rect x="465.20" y="265.70" width="5.00" height="5.00" fill="#000"/>
<text x="482.30" y="271.60" font-family='"Liberation Serif", serif' font-size="10.0" font-weight="normal" text-anchor="start" fill="#000" stroke="#000" stroke-width="0.15" >HZ</text>
<line x1="456.20" y1="282.30" x2="480.30" y2="282.30" stroke="#000" stroke-width="1.1" />
<path d="M467.70,279.40 L470.20,284.50 L465.20,284.50 Z" fill="#000" stroke="#000" stroke-width="0.9" stroke-linejoin="round"/>
<text x="482.30" y="285.70" font-family='"Liberation Serif", serif' font-size="10.0" font-weight="normal" text-anchor="start" fill="#000" stroke="#000" stroke-width="0.15" >HNE</text>
<text x="8.00" y="433.20" font-family='"Liberation Sans", sans-serif' font-size="13.2" font-weight="bold" text-anchor="start" fill="#000" >C</text>
<path d="M40.4,570.8 L40.60,563.12 L41.20,562.77 L41.80,561.04 L42.40,561.15 L43.00,561.79 L43.60,561.53 L44.20,559.41 L44.80,559.34 L45.40,558.69 L46.00,559.36 L46.60,558.13 L47.20,558.92 L47.80,559.14 L48.40,558.02 L49.00,558.73 L49.60,558.29 L50.20,556.69 L50.80,557.74 L51.40,556.73 L52.00,556.55 L52.60,555.69 L53.20,556.12 L53.80,554.96 L54.40,553.73 L55.00,554.11 L55.60,553.99 L56.20,551.71 L56.80,550.62 L57.40,550.73 L58.00,552.29 L58.60,549.43 L59.20,544.93 L59.80,545.17 L60.40,544.03 L61.00,540.91 L61.60,538.81 L62.20,540.76 L62.80,539.57 L63.40,536.70 L64.00,531.76 L64.60,528.75 L65.20,527.25 L65.80,524.49 L66.40,522.80 L67.00,521.80 L67.60,521.48 L68.20,517.91 L68.80,514.23 L69.40,512.03 L70.00,510.69 L70.60,507.31 L71.20,505.11 L71.80,504.43 L72.40,500.20 L73.00,499.92 L73.60,495.84 L74.20,494.00 L74.80,492.68 L75.40,490.92 L76.00,489.44 L76.60,486.51 L77.20,486.51 L77.80,483.83 L78.40,484.15 L79.00,482.16 L79.60,482.14 L80.20,479.62 L80.80,479.67 L81.40,482.35 L82.00,477.97 L82.60,479.36 L83.20,477.82 L83.80,476.72 L84.40,474.08 L85.00,476.18 L85.60,475.16 L86.20,476.85 L86.80,479.26 L87.40,480.83 L88.00,483.23 L88.60,489.52 L89.20,493.98 L89.80,494.65 L90.40,500.74 L91.00,501.87 L91.60,505.19 L92.20,509.87 L92.80,512.94 L93.40,518.26 L94.00,521.48 L94.60,524.63 L95.20,526.76 L95.80,530.59 L96.40,533.13 L97.00,535.71 L97.60,538.97 L98.20,540.61 L98.80,542.29 L99.40,545.23 L100.00,546.25 L100.60,547.44 L101.20,550.13 L101.80,551.50 L102.40,553.22 L103.00,553.77 L103.60,553.80 L104.20,553.43 L104.80,555.43 L105.40,557.56 L106.00,557.95 L106.60,557.40 L107.20,557.61 L107.80,557.23 L108.40,557.41 L109.00,557.41 L109.60,560.00 L110.20,559.60 L110.80,558.52 L111.40,559.59 L112.00,558.87 L112.60,559.63 L113.20,561.32 L113.80,561.24 L114.40,560.91 L115.00,560.49 L115.60,561.69 L116.20,562.69 L116.80,561.38 L117.40,560.51 L118.00,560.62 L118.60,560.84 L119.20,563.44 L119.80,562.41 L120.40,563.40 L121.00,561.68 L121.60,562.09 L122.20,563.45 L122.80,564.18 L123.40,562.78 L124.00,562.16 L124.60,564.55 L125.20,563.27 L125.80,564.33 L126.40,563.31 L127.00,564.54 L127.60,564.98 L128.20,564.89 L128.80,564.30 L129.40,565.18 L130.00,564.16 L130.60,564.65 L131.20,565.01 L131.80,566.07 L132.40,564.77 L133.00,566.37 L133.60,566.35 L134.20,566.81 L134.80,565.71 L135.40,565.49 L136.00,565.66 L136.60,566.94 L137.20,567.32 L137.80,566.89 L138.40,566.56 L139.00,566.27 L139.60,567.67 L140.20,568.04 L140.80,566.78 L141.40,567.33 L142.00,568.86 L142.60,569.20 L143.20,568.43 L143.80,568.66 L144.40,569.26 L145.00,569.77 L145.60,569.17 L146.20,570.80 L146.80,570.63 L147.40,570.80 L148,570.8 Z" fill="#a4a4a4" stroke="none"/>
<path d="M41.50,561.67 L42.30,548.84 L43.10,534.25 L43.90,521.24 L44.70,512.85 L45.50,505.98 L46.30,499.17 L47.10,492.10 L47.90,485.07 L48.70,478.16 L49.50,473.50 L50.30,471.09 L51.10,467.53 L51.90,463.99 L52.70,462.63 L53.50,459.68 L54.30,457.85 L55.10,457.31 L55.90,457.30 L56.70,457.02 L57.50,458.01 L58.30,458.57 L59.10,459.56 L59.90,460.82 L60.70,462.55 L61.50,463.96 L62.30,465.97 L63.10,469.12 L63.90,471.30 L64.70,472.41 L65.50,474.20 L66.30,476.40 L67.10,479.57 L67.90,482.34 L68.70,487.04 L69.50,495.09 L70.30,506.40 L71.10,518.02 L71.90,528.83 L72.70,539.92 L73.50,549.71 L74.30,558.36 L75.10,565.72 L75.90,567.98 L76.70,569.08" fill="none" stroke="#b4b4b4" stroke-width="1.1" stroke-dasharray="2.2,1.3"/>
<path d="M60.00,470.47 L60.80,472.47 L61.60,475.72 L62.40,477.45 L63.20,480.05 L64.00,482.72 L64.80,484.73 L65.60,488.37 L66.40,494.86 L67.20,501.35 L68.00,505.93 L68.80,511.08 L69.60,515.92 L70.40,521.19 L71.20,526.84 L72.00,533.92 L72.80,540.38 L73.60,547.90 L74.40,556.10 L75.20,561.21 L76.00,565.47 L76.80,567.46 L77.60,568.76 L78.40,569.88" fill="none" stroke="#c4c4c4" stroke-width="1.0" stroke-dasharray="2,1.5"/>
<path d="M40.50,549.31 L41.20,548.48 L41.90,543.47 L42.60,540.97 L43.30,538.66 L44.00,533.99 L44.70,530.92 L45.40,526.29 L46.10,525.73 L46.80,525.31 L47.50,524.68 L48.20,523.80 L48.90,520.65 L49.60,517.93 L50.30,517.36 L51.00,518.48 L51.70,514.35 L52.40,513.96 L53.10,514.52 L53.80,509.50 L54.50,510.40 L55.20,510.40 L55.90,506.12 L56.60,505.99 L57.30,506.04 L58.00,501.53 L58.70,501.97 L59.40,501.76 L60.10,500.32 L60.80,497.67 L61.50,493.82 L62.20,492.71 L62.90,491.36 L63.60,490.91 L64.30,489.66 L65.00,490.85 L65.70,489.87 L66.40,487.36 L67.10,487.33 L67.80,485.02 L68.50,484.61 L69.20,483.11 L69.90,483.28 L70.60,481.08 L71.30,480.61 L72.00,481.13 L72.70,479.38 L73.40,481.53 L74.10,479.32 L74.80,482.26 L75.50,481.69 L76.20,484.04 L76.90,487.20 L77.60,489.09 L78.30,491.16 L79.00,494.60 L79.70,498.17 L80.40,502.01 L81.10,505.09 L81.80,508.46 L82.50,516.01 L83.20,523.15 L83.90,529.00 L84.60,534.23 L85.30,539.48 L86.00,543.93 L86.70,548.53 L87.40,552.52 L88.10,556.19 L88.80,558.08 L89.50,560.57 L90.20,562.20 L90.90,564.53 L91.60,565.49 L92.30,566.33 L93.00,566.73 L93.70,567.07 L94.40,567.84 L95.10,568.44 L95.80,569.03 L96.50,569.53 L97.20,569.80 L97.90,569.90 L98.60,570.23 L99.30,570.32 L100.00,570.17 L100.70,570.19 L101.40,570.52 L102.10,570.68 L102.80,570.58 L103.50,570.75 L104.20,570.93 L104.90,570.23 L105.60,570.90 L106.30,570.42 L107.00,570.58 L107.70,570.84 L108.40,570.77 L109.10,570.32 L109.80,570.73 L110.50,570.26 L111.20,570.49 L111.90,570.85 L112.60,570.54 L113.30,570.68 L114.00,570.78 L114.70,570.86 L115.40,570.81 L116.10,570.21 L116.80,570.54 L117.50,570.57 L118.20,570.24 L118.90,570.63 L119.60,570.69 L120.30,570.86 L121.00,570.95 L121.70,570.30 L122.40,570.38 L123.10,570.73 L123.80,570.31 L124.50,570.38 L125.20,570.66 L125.90,570.34 L126.60,570.83 L127.30,570.89 L128.00,570.23 L128.70,570.63 L129.40,570.84 L130.10,570.98 L130.80,570.42 L131.50,570.34 L132.20,570.90 L132.90,570.93 L133.60,570.36 L134.30,570.55 L135.00,570.78 L135.70,570.88 L136.40,570.33 L137.10,570.73 L137.80,570.85 L138.50,570.64 L139.20,570.33 L139.90,570.23 L140.60,570.43 L141.30,570.85 L142.00,570.24 L142.70,570.21 L143.40,570.49 L144.10,570.25 L144.80,570.32 L145.50,570.22 L146.20,570.62 L146.90,570.76 L147.60,570.54 L148.30,570.31 L149.00,570.47 L149.70,570.67 L150.40,570.95 L151.10,570.99 L151.80,570.39 L152.50,570.21 L153.20,570.86 L153.90,570.94 L154.60,570.57" fill="none" stroke="#505050" stroke-width="0.85" stroke-dasharray="2.5,0.8"/>
<path d="M41.00,554.49 L41.70,550.67 L42.40,546.08 L43.10,540.72 L43.80,536.73 L44.50,533.05 L45.20,531.92 L45.90,529.65 L46.60,528.45 L47.30,526.59 L48.00,525.22 L48.70,523.72 L49.40,523.13 L50.10,521.47 L50.80,519.71 L51.50,517.59 L52.20,515.69 L52.90,517.09 L53.60,513.14 L54.30,511.28 L55.00,509.26 L55.70,511.53 L56.40,506.71 L57.10,506.09 L57.80,503.68 L58.50,502.73 L59.20,501.77 L59.90,502.15 L60.60,498.32 L61.30,498.74 L62.00,492.11 L62.70,492.21 L63.40,495.12 L64.10,495.06 L64.80,493.42 L65.50,489.28 L66.20,488.33 L66.90,486.28 L67.60,487.08 L68.30,485.59 L69.00,482.47 L69.70,483.77 L70.40,483.78 L71.10,480.03 L71.80,481.02 L72.50,481.66 L73.20,482.98 L73.90,481.89 L74.60,480.46 L75.30,484.19 L76.00,485.25 L76.70,489.56 L77.40,491.60 L78.10,495.02 L78.80,501.09 L79.50,505.79 L80.20,511.45 L80.90,516.53 L81.60,521.40 L82.30,525.81 L83.00,530.74 L83.70,535.46 L84.40,540.01 L85.10,544.50 L85.80,547.78 L86.50,551.48 L87.20,555.43 L87.90,557.63 L88.60,559.40 L89.30,561.65 L90.00,563.67 L90.70,565.38 L91.40,565.75 L92.10,566.52 L92.80,567.56 L93.50,568.07 L94.20,568.87 L94.90,569.41 L95.60,569.83 L96.30,569.82 L97.00,570.02 L97.70,569.56 L98.40,569.72 L99.10,569.94 L99.80,570.03 L100.50,570.20 L101.20,570.44 L101.90,570.29 L102.60,570.70 L103.30,570.60 L104.00,570.24 L104.70,570.60 L105.40,570.55 L106.10,570.72 L106.80,570.75 L107.50,570.35 L108.20,570.22 L108.90,570.62 L109.60,570.12 L110.30,570.75 L111.00,570.52 L111.70,570.92 L112.40,570.91 L113.10,570.31 L113.80,570.81 L114.50,570.78 L115.20,570.32 L115.90,570.66 L116.60,570.92 L117.30,570.72 L118.00,570.22 L118.70,570.54 L119.40,570.51 L120.10,570.15 L120.80,570.94 L121.50,570.85 L122.20,570.32 L122.90,570.64 L123.60,570.53 L124.30,570.44 L125.00,570.58 L125.70,570.61 L126.40,570.83 L127.10,570.21 L127.80,570.65 L128.50,570.57 L129.20,570.30 L129.90,570.29 L130.60,570.68 L131.30,570.88 L132.00,570.20 L132.70,570.52 L133.40,570.88 L134.10,570.56 L134.80,570.48 L135.50,570.38 L136.20,570.23 L136.90,570.33 L137.60,570.64 L138.30,570.62 L139.00,570.63 L139.70,570.44" fill="none" stroke="#555" stroke-width="0.85" stroke-dasharray="1.2,0.9"/>
<line x1="40.40" y1="432.00" x2="40.40" y2="570.80" stroke="#777" stroke-width="1.0" />
<line x1="39.50" y1="432.20" x2="40.40" y2="432.20" stroke="#777" stroke-width="1.0" />
<line x1="39.90" y1="570.80" x2="210.80" y2="570.80" stroke="#777" stroke-width="1.0" />
<text x="46.70" y="440.20" font-family='"Liberation Serif", serif' font-size="9.6" font-weight="bold" text-anchor="start" fill="#000" stroke="#000" stroke-width="0.15" >Mo</text>
<text x="68.20" y="440.20" font-family='"Liberation Serif", serif' font-size="9.6" font-weight="bold" text-anchor="start" fill="#000" stroke="#000" stroke-width="0.15" >Mo+RBC</text>
<text x="119.20" y="440.20" font-family='"Liberation Serif", serif' font-size="9.6" font-weight="bold" text-anchor="start" fill="#000" stroke="#000" stroke-width="0.15" >Mo+HZ</text>
<line x1="58.30" y1="442.90" x2="68.70" y2="477.10" stroke="#111" stroke-width="0.9" />
<line x1="78.60" y1="442.90" x2="74.90" y2="480.00" stroke="#111" stroke-width="0.9" />
<line x1="123.75" y1="445.00" x2="91.40" y2="485.20" stroke="#111" stroke-width="0.9" />
<text x="0" y="0" font-family='"Liberation Serif", serif' font-size="6.6" font-weight="bold" text-anchor="middle" fill="#000" stroke="#000" stroke-width="0.15"  transform="translate(38.80,434.00) rotate(-90) scale(1,1.0)">512</text>
<text x="0" y="0" font-family='"Liberation Serif", serif' font-size="6.0" font-weight="bold" text-anchor="middle" fill="#000" stroke="#000" stroke-width="0.15"  transform="translate(38.30,571.00) rotate(-90) scale(1,1.0)">0</text>
<text x="42.10" y="580.20" font-family='"Liberation Serif", serif' font-size="6.2" font-weight="bold" text-anchor="middle" fill="#000" stroke="#000" stroke-width="0.15" >10</text>
<text x="45.40" y="576.80" font-family='"Liberation Serif", serif' font-size="3.8" font-weight="bold" text-anchor="start" fill="#000" stroke="#000" stroke-width="0.15" >0</text>
<text x="82.70" y="580.20" font-family='"Liberation Serif", serif' font-size="6.2" font-weight="bold" text-anchor="middle" fill="#000" stroke="#000" stroke-width="0.15" >10</text>
<text x="86.00" y="576.80" font-family='"Liberation Serif", serif' font-size="3.8" font-weight="bold" text-anchor="start" fill="#000" stroke="#000" stroke-width="0.15" >1</text>
<text x="125.10" y="580.20" font-family='"Liberation Serif", serif' font-size="6.2" font-weight="bold" text-anchor="middle" fill="#000" stroke="#000" stroke-width="0.15" >10</text>
<text x="128.40" y="576.80" font-family='"Liberation Serif", serif' font-size="3.8" font-weight="bold" text-anchor="start" fill="#000" stroke="#000" stroke-width="0.15" >2</text>
<text x="167.50" y="580.20" font-family='"Liberation Serif", serif' font-size="6.2" font-weight="bold" text-anchor="middle" fill="#000" stroke="#000" stroke-width="0.15" >10</text>
<text x="170.80" y="576.80" font-family='"Liberation Serif", serif' font-size="3.8" font-weight="bold" text-anchor="start" fill="#000" stroke="#000" stroke-width="0.15" >3</text>
<text x="209.90" y="580.20" font-family='"Liberation Serif", serif' font-size="6.2" font-weight="bold" text-anchor="middle" fill="#000" stroke="#000" stroke-width="0.15" >10</text>
<text x="213.20" y="576.80" font-family='"Liberation Serif", serif' font-size="3.8" font-weight="bold" text-anchor="start" fill="#000" stroke="#000" stroke-width="0.15" >4</text>
<text x="0" y="0" font-family='"Liberation Serif", serif' font-size="11.2" font-weight="normal" text-anchor="middle" fill="#000" stroke="#000" stroke-width="0.3"  transform="translate(28.60,511.50) rotate(-90) scale(1,1.0)">EVENTS</text>
<text x="114.60" y="600.20" font-family='"Liberation Serif", serif' font-size="11.2" font-weight="bold" text-anchor="middle" fill="#000" stroke="#000" stroke-width="0.15" >HNE ADDUCTS</text>
<text x="283.00" y="435.20" font-family='"Liberation Sans", sans-serif' font-size="13.2" font-weight="bold" text-anchor="start" fill="#000" >F</text>
<path d="M311.3,573.0 L311.50,572.58 L312.10,572.27 L312.70,572.39 L313.30,572.38 L313.90,571.97 L314.50,571.82 L315.10,571.30 L315.70,571.44 L316.30,571.56 L316.90,571.31 L317.50,570.95 L318.10,569.82 L318.70,569.67 L319.30,568.95 L319.90,567.77 L320.50,567.40 L321.10,566.28 L321.70,565.15 L322.30,563.99 L322.90,562.58 L323.50,561.71 L324.10,560.45 L324.70,558.82 L325.30,557.24 L325.90,555.39 L326.50,553.67 L327.10,552.41 L327.70,550.62 L328.30,548.54 L328.90,546.85 L329.50,544.51 L330.10,542.54 L330.70,540.17 L331.30,537.88 L331.90,535.78 L332.50,534.00 L333.10,531.96 L333.70,529.68 L334.30,529.00 L334.90,528.77 L335.50,527.64 L336.10,527.24 L336.70,526.42 L337.30,525.97 L337.90,525.58 L338.50,525.51 L339.10,525.64 L339.70,525.50 L340.30,525.20 L340.90,524.82 L341.50,524.74 L342.10,524.49 L342.70,524.30 L343.30,524.42 L343.90,524.56 L344.50,524.03 L345.10,524.06 L345.70,524.78 L346.30,524.65 L346.90,525.12 L347.50,525.34 L348.10,525.67 L348.70,525.53 L349.30,525.80 L349.90,526.41 L350.50,526.69 L351.10,526.91 L351.70,527.32 L352.30,527.50 L352.90,528.02 L353.50,527.88 L354.10,528.69 L354.70,529.37 L355.30,529.47 L355.90,530.19 L356.50,530.55 L357.10,531.14 L357.70,531.40 L358.30,531.89 L358.90,532.97 L359.50,533.35 L360.10,534.05 L360.70,534.72 L361.30,535.09 L361.90,535.64 L362.50,536.09 L363.10,537.11 L363.70,538.07 L364.30,539.61 L364.90,541.32 L365.50,542.64 L366.10,543.50 L366.70,543.97 L367.30,545.20 L367.90,545.73 L368.50,546.62 L369.10,547.37 L369.70,548.37 L370.30,549.26 L370.90,550.03 L371.50,550.67 L372.10,551.43 L372.70,552.50 L373.30,552.66 L373.90,553.29 L374.50,553.59 L375.10,554.27 L375.70,554.66 L376.30,555.38 L376.90,556.17 L377.50,556.89 L378.10,557.19 L378.70,557.48 L379.30,558.29 L379.90,558.80 L380.50,559.48 L381.10,559.78 L381.70,560.41 L382.30,560.43 L382.90,560.70 L383.50,561.22 L384.10,561.87 L384.70,562.09 L385.30,562.30 L385.90,562.66 L386.50,563.13 L387.10,563.35 L387.70,563.79 L388.30,564.44 L388.90,564.78 L389.50,565.08 L390.10,564.83 L390.70,565.37 L391.30,565.47 L391.90,566.09 L392.50,565.90 L393.10,566.57 L393.70,566.32 L394.30,566.68 L394.90,567.29 L395.50,567.27 L396.10,567.74 L396.70,567.70 L397.30,567.72 L397.90,568.29 L398.50,568.38 L399.10,568.55 L399.70,568.47 L400.30,568.66 L400.90,569.39 L401.50,569.59 L402.10,569.77 L402.70,569.53 L403.30,569.49 L403.90,570.03 L404.50,570.34 L405.10,570.46 L405.70,570.22 L406.30,570.53 L406.90,571.04 L407.50,570.69 L408.10,571.34 L408.70,571.53 L409.30,571.11 L409.90,571.07 L410.50,571.82 L411.10,571.76 L411.70,571.64 L412.30,571.75 L412.90,572.16 L413.50,571.86 L414.10,571.75 L414.70,572.23 L415.30,572.12 L415.90,572.47 L416.50,572.74 L417.10,572.41 L417.70,572.41 L418.30,572.36 L418.90,572.99 L419.50,572.54 L420.10,573.00 L420.70,573.00 L421,573.0 Z" fill="#9b9b9b" stroke="#666" stroke-width="0.7" stroke-dasharray="1,0.8"/>
<path d="M311.80,554.65 L312.60,544.71 L313.40,533.71 L314.20,528.28 L315.00,524.94 L315.80,523.04 L316.60,520.21 L317.40,514.21 L318.20,507.70 L319.00,499.44 L319.80,492.30 L320.60,485.34 L321.40,480.48 L322.20,476.45 L323.00,471.66 L323.80,468.50 L324.60,465.65 L325.40,462.69 L326.20,460.09 L327.00,457.31 L327.80,460.66 L328.60,462.68 L329.40,465.55 L330.20,471.11 L331.00,477.67 L331.80,483.36 L332.60,488.48 L333.40,493.14 L334.20,496.33 L335.00,501.80 L335.80,514.59 L336.60,521.23 L337.40,524.63 L338.20,528.68 L339.00,532.45 L339.80,537.62 L340.60,542.28 L341.40,547.18 L342.20,551.60 L343.00,553.93 L343.80,555.81 L344.60,558.32 L345.40,559.43 L346.20,562.14 L347.00,563.51 L347.80,565.44 L348.60,567.24 L349.40,567.76 L350.20,568.46 L351.00,568.64 L351.80,569.30 L352.60,570.56 L353.40,571.07 L354.20,571.07 L355.00,571.83 L355.80,571.87 L356.60,571.83 L357.40,572.42 L358.20,572.44 L359.00,572.19 L359.80,572.84" fill="none" stroke="#aaa" stroke-width="1.1" stroke-dasharray="2.2,1.3"/>
<path d="M311.50,556.33 L312.20,555.69 L312.90,556.39 L313.60,555.75 L314.30,554.63 L315.00,552.88 L315.70,551.94 L316.40,551.08 L317.10,550.05 L317.80,549.28 L318.50,547.59 L319.20,547.78 L319.90,547.66 L320.60,548.78 L321.30,548.15 L322.00,547.15 L322.70,545.27 L323.40,544.01 L324.10,541.08 L324.80,538.11 L325.50,535.44 L326.20,530.44 L326.90,526.43 L327.60,523.49 L328.30,519.96 L329.00,517.38 L329.70,514.59 L330.40,511.40 L331.10,506.89 L331.80,504.38 L332.50,501.24 L333.20,497.13 L333.90,495.66 L334.60,494.73 L335.30,494.99 L336.00,496.64 L336.70,494.65 L337.40,493.34 L338.10,493.60 L338.80,496.08 L339.50,499.31 L340.20,503.93 L340.90,505.15 L341.60,505.28 L342.30,506.75 L343.00,509.30 L343.70,512.26 L344.40,515.53 L345.10,519.23 L345.80,521.88 L346.50,526.12 L347.20,529.46 L347.90,531.84 L348.60,534.57 L349.30,537.51 L350.00,539.72 L350.70,541.82 L351.40,542.70 L352.10,543.34 L352.80,544.91 L353.50,546.07 L354.20,545.81 L354.90,547.06 L355.60,547.48 L356.30,548.21 L357.00,549.30 L357.70,550.70 L358.40,552.01 L359.10,553.21 L359.80,553.92 L360.50,554.32 L361.20,554.69 L361.90,556.51 L362.60,556.70 L363.30,556.44 L364.00,556.76 L364.70,555.42 L365.40,555.08 L366.10,557.10 L366.80,558.65 L367.50,560.71 L368.20,561.69 L368.90,562.73 L369.60,564.01 L370.30,563.86 L371.00,564.35 L371.70,565.18 L372.40,565.39 L373.10,565.28 L373.80,563.43 L374.50,563.41 L375.20,562.34 L375.90,561.08 L376.60,562.13 L377.30,564.25 L378.00,564.40 L378.70,565.33 L379.40,566.36 L380.10,566.94 L380.80,566.93 L381.50,567.23 L382.20,567.67 L382.90,566.97 L383.60,567.04 L384.30,567.90 L385.00,567.37 L385.70,568.15 L386.40,567.74 L387.10,568.03 L387.80,568.09 L388.50,569.14 L389.20,568.69 L389.90,568.82 L390.60,569.11 L391.30,569.35 L392.00,569.22 L392.70,569.65 L393.40,570.32 L394.10,570.60 L394.80,570.13 L395.50,570.76 L396.20,571.29 L396.90,571.01 L397.60,570.98 L398.30,570.72 L399.00,571.79 L399.70,571.88 L400.40,571.09 L401.10,571.30 L401.80,572.19 L402.50,571.96 L403.20,571.80 L403.90,571.66 L404.60,571.70 L405.30,572.35 L406.00,572.63 L406.70,573.01 L407.40,572.81 L408.10,572.38 L408.80,572.87 L409.50,572.06 L410.20,572.75 L410.90,572.89 L411.60,572.09 L412.30,572.54 L413.00,572.28 L413.70,572.44 L414.40,572.40 L415.10,572.52 L415.80,572.34 L416.50,573.03 L417.20,572.28 L417.90,572.93 L418.60,572.47 L419.30,572.89 L420.00,572.64" fill="none" stroke="#333" stroke-width="1.0"/>
<path d="M312.50,572.51 L313.20,572.60 L313.90,572.52 L314.60,571.48 L315.30,571.61 L316.00,572.08 L316.70,571.46 L317.40,571.09 L318.10,571.14 L318.80,570.65 L319.50,571.06 L320.20,570.42 L320.90,570.44 L321.60,569.73 L322.30,570.22 L323.00,569.59 L323.70,570.13 L324.40,569.15 L325.10,569.09 L325.80,568.68 L326.50,568.35 L327.20,567.16 L327.90,566.93 L328.60,566.67 L329.30,566.44 L330.00,565.53 L330.70,565.11 L331.40,564.20 L332.10,562.85 L332.80,562.13 L333.50,561.82 L334.20,560.15 L334.90,559.95 L335.60,557.62 L336.30,556.64 L337.00,555.00 L337.70,553.02 L338.40,551.96 L339.10,549.47 L339.80,547.14 L340.50,545.23 L341.20,543.51 L341.90,541.06 L342.60,538.65 L343.30,536.82 L344.00,534.38 L344.70,529.78 L345.40,526.06 L346.10,525.04 L346.80,523.79 L347.50,520.58 L348.20,518.16 L348.90,515.94 L349.60,514.12 L350.30,513.00 L351.00,510.35 L351.70,510.78 L352.40,511.74 L353.10,512.27 L353.80,513.12 L354.50,513.58 L355.20,514.11 L355.90,514.15 L356.60,515.05 L357.30,515.14 L358.00,515.69 L358.70,516.81 L359.40,518.39 L360.10,520.30 L360.80,521.25 L361.50,523.06 L362.20,524.53 L362.90,526.44 L363.60,528.07 L364.30,529.69 L365.00,530.82 L365.70,532.37 L366.40,533.47 L367.10,534.13 L367.80,535.67 L368.50,536.38 L369.20,537.24 L369.90,539.21 L370.60,539.37 L371.30,540.61 L372.00,540.96 L372.70,541.13 L373.40,542.14 L374.10,542.63 L374.80,543.32 L375.50,544.29 L376.20,544.80 L376.90,544.81 L377.60,544.85 L378.30,545.29 L379.00,545.98 L379.70,546.18 L380.40,546.00 L381.10,546.92 L381.80,547.72 L382.50,547.47 L383.20,548.10 L383.90,548.27 L384.60,549.49 L385.30,549.44 L386.00,549.80 L386.70,550.26 L387.40,550.83 L388.10,551.01 L388.80,552.21 L389.50,552.78 L390.20,553.31 L390.90,553.14 L391.60,553.87 L392.30,554.84 L393.00,555.45 L393.70,555.77 L394.40,556.59 L395.10,557.81 L395.80,558.33 L396.50,558.38 L397.20,559.03 L397.90,560.24 L398.60,560.30 L399.30,560.61 L400.00,561.28 L400.70,561.88 L401.40,562.75 L402.10,562.65 L402.80,563.90 L403.50,563.93 L404.20,564.37 L404.90,564.37 L405.60,564.86 L406.30,565.88 L407.00,565.75 L407.70,565.78 L408.40,566.52 L409.10,566.94 L409.80,567.51 L410.50,567.44 L411.20,568.31 L411.90,567.90 L412.60,568.47 L413.30,568.56 L414.00,568.65 L414.70,569.19 L415.40,568.88 L416.10,569.50 L416.80,569.70 L417.50,570.17 L418.20,569.94 L418.90,570.07 L419.60,570.27 L420.30,571.26 L421.00,570.90 L421.70,571.53 L422.40,571.59 L423.10,571.26 L423.80,571.35 L424.50,571.72 L425.20,572.11 L425.90,572.10 L426.60,571.90 L427.30,572.04 L428.00,571.92 L428.70,572.39 L429.40,571.97 L430.10,572.60 L430.80,572.24 L431.50,572.73 L432.20,572.82 L432.90,573.01 L433.60,572.78 L434.30,572.91 L435.00,572.82 L435.70,572.56 L436.40,572.63 L437.10,572.77 L437.80,572.72 L438.50,572.93 L439.20,572.79 L439.90,573.34 L440.60,573.00 L441.30,572.89 L442.00,573.43 L442.70,572.68 L443.40,572.92 L444.10,572.91 L444.80,573.26" fill="none" stroke="#222" stroke-width="1.05" stroke-dasharray="1.2,0.8"/>
<line x1="311.30" y1="438.00" x2="311.30" y2="573.50" stroke="#222" stroke-width="1.7" />
<line x1="311.30" y1="573.00" x2="506.80" y2="573.00" stroke="#777" stroke-width="1.0" />
<text x="328.20" y="446.00" font-family='"Liberation Serif", serif' font-size="9.2" font-weight="bold" text-anchor="start" fill="#000" stroke="#000" stroke-width="0.15" >CTRL</text>
<text x="361.20" y="446.00" font-family='"Liberation Serif", serif' font-size="9.2" font-weight="bold" text-anchor="start" fill="#000" stroke="#000" stroke-width="0.15" >HZ</text>
<text x="380.80" y="446.00" font-family='"Liberation Serif", serif' font-size="9.2" font-weight="bold" text-anchor="start" fill="#000" stroke="#000" stroke-width="0.15" >HNE</text>
<line x1="347.50" y1="452.60" x2="338.20" y2="491.80" stroke="#111" stroke-width="0.9" />
<line x1="369.30" y1="450.80" x2="346.20" y2="518.40" stroke="#111" stroke-width="0.9" />
<line x1="387.30" y1="450.80" x2="364.20" y2="520.00" stroke="#111" stroke-width="0.9" />
<text x="0" y="0" font-family='"Liberation Serif", serif' font-size="6.9" font-weight="bold" text-anchor="middle" fill="#000" stroke="#000" stroke-width="0.15"  transform="translate(309.90,440.20) rotate(-90) scale(1,1.0)">512</text>
<text x="0" y="0" font-family='"Liberation Serif", serif' font-size="6.0" font-weight="bold" text-anchor="middle" fill="#000" stroke="#000" stroke-width="0.15"  transform="translate(309.00,573.50) rotate(-90) scale(1,1.0)">0</text>
<text x="311.00" y="581.60" font-family='"Liberation Serif", serif' font-size="6.0" font-weight="bold" text-anchor="middle" fill="#000" stroke="#000" stroke-width="0.15" >10</text>
<text x="314.20" y="578.30" font-family='"Liberation Serif", serif' font-size="3.7" font-weight="bold" text-anchor="start" fill="#000" stroke="#000" stroke-width="0.15" >0</text>
<text x="359.20" y="581.60" font-family='"Liberation Serif", serif' font-size="6.0" font-weight="bold" text-anchor="middle" fill="#000" stroke="#000" stroke-width="0.15" >10</text>
<text x="362.40" y="578.30" font-family='"Liberation Serif", serif' font-size="3.7" font-weight="bold" text-anchor="start" fill="#000" stroke="#000" stroke-width="0.15" >1</text>
<text x="407.60" y="581.60" font-family='"Liberation Serif", serif' font-size="6.0" font-weight="bold" text-anchor="middle" fill="#000" stroke="#000" stroke-width="0.15" >10</text>
<text x="410.80" y="578.30" font-family='"Liberation Serif", serif' font-size="3.7" font-weight="bold" text-anchor="start" fill="#000" stroke="#000" stroke-width="0.15" >2</text>
<text x="456.00" y="581.60" font-family='"Liberation Serif", serif' font-size="6.0" font-weight="bold" text-anchor="middle" fill="#000" stroke="#000" stroke-width="0.15" >10</text>
<text x="459.20" y="578.30" font-family='"Liberation Serif", serif' font-size="3.7" font-weight="bold" text-anchor="start" fill="#000" stroke="#000" stroke-width="0.15" >3</text>
<text x="504.40" y="581.60" font-family='"Liberation Serif", serif' font-size="6.0" font-weight="bold" text-anchor="middle" fill="#000" stroke="#000" stroke-width="0.15" >10</text>
<text x="507.60" y="578.30" font-family='"Liberation Serif", serif' font-size="3.7" font-weight="bold" text-anchor="start" fill="#000" stroke="#000" stroke-width="0.15" >4</text>
<text x="0" y="0" font-family='"Liberation Serif", serif' font-size="11.0" font-weight="normal" text-anchor="middle" fill="#000" stroke="#000" stroke-width="0.3"  transform="translate(292.30,505.40) rotate(-90) scale(1,1.0)">EVENTS</text>
<text x="400.20" y="599.50" font-family='"Liberation Serif", serif' font-size="11.2" font-weight="bold" text-anchor="middle" fill="#000" stroke="#000" stroke-width="0.15" >HNE ADDUCTS</text>
</svg></body></html>
